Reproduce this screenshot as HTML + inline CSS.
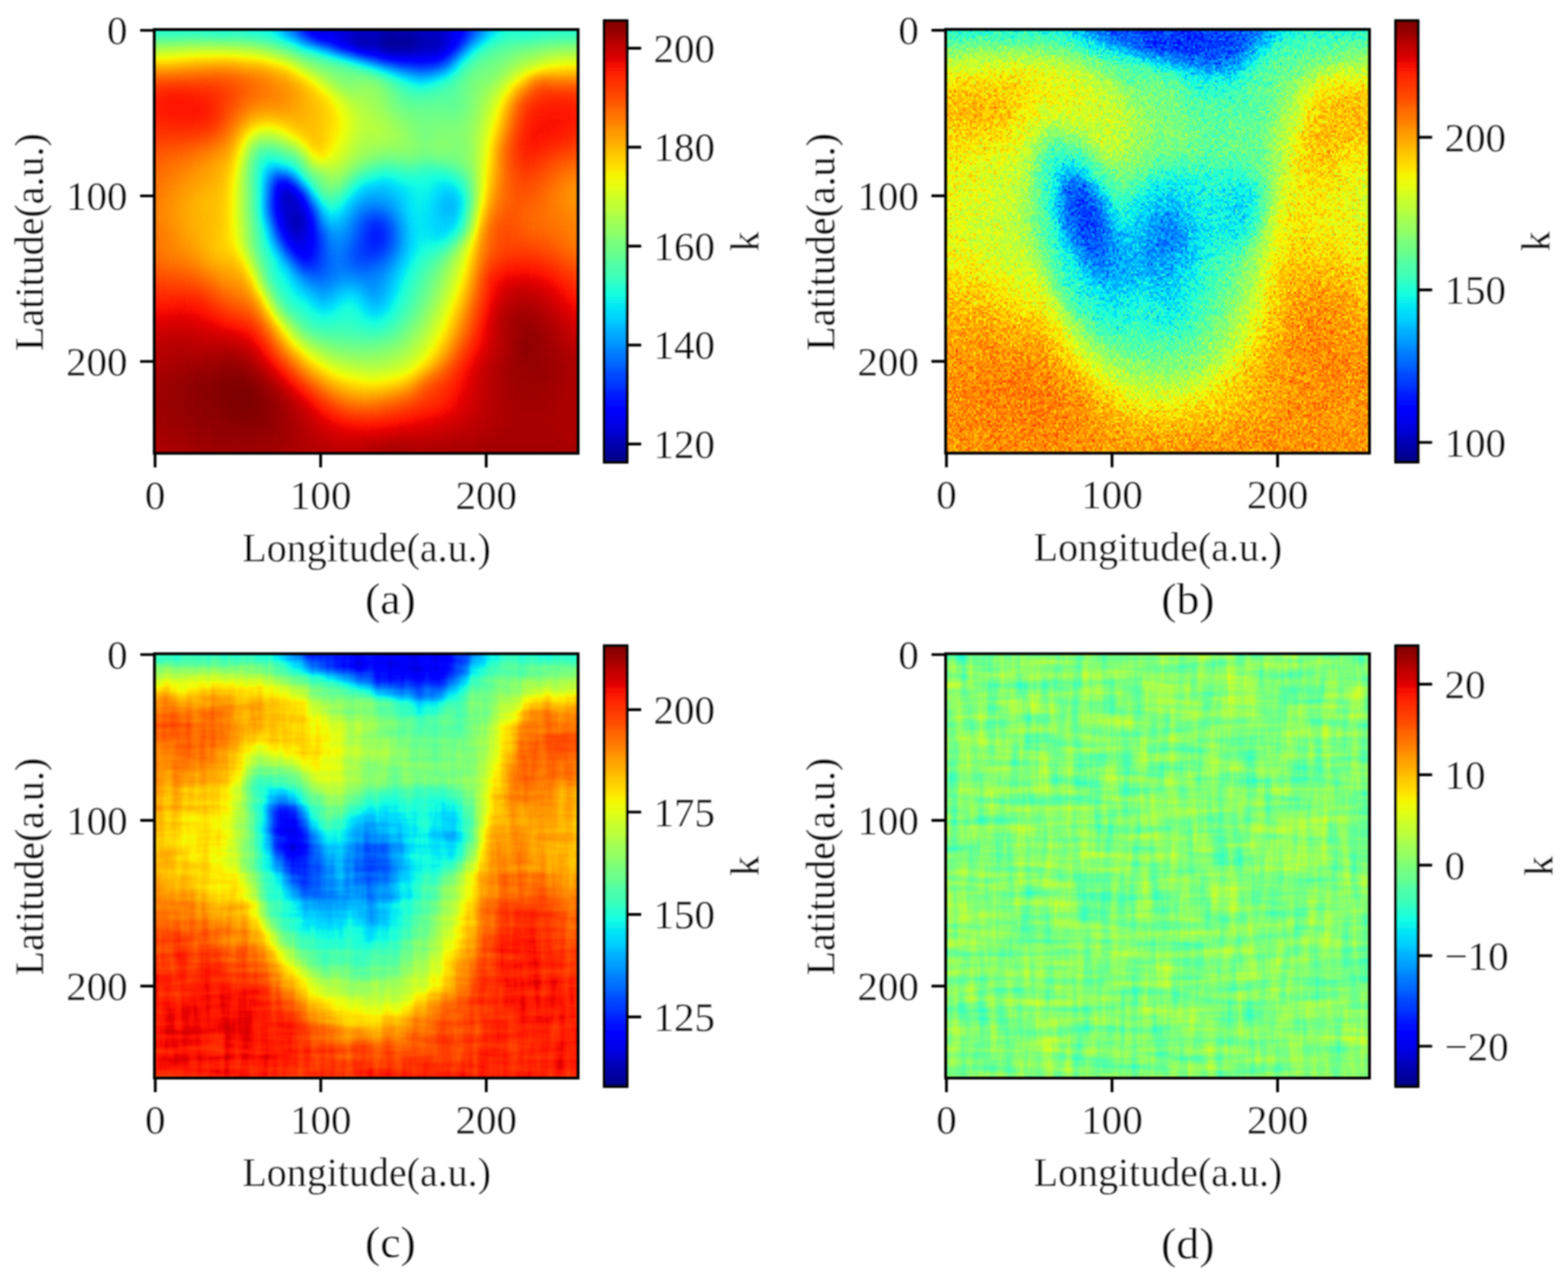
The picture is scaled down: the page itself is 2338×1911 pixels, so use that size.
<!DOCTYPE html>
<html lang="en"><head><meta charset="utf-8"><title>Figure</title>
<style>html,body{margin:0;padding:0;background:#fff}body{width:2338px;height:1911px;overflow:hidden;position:relative}svg{position:absolute;left:0;top:0;display:block}text{font-family:"Liberation Serif","Times New Roman",serif;font-size:59.6px;fill:#000;stroke:#fff;stroke-width:0.3;stroke-linejoin:round}.cap{font-size:67.5px}.sp{fill:none;stroke:#000;stroke-width:4.2}.tk{stroke:#000;stroke-width:4.2;fill:none}</style></head><body>
<svg xmlns="http://www.w3.org/2000/svg" width="2338" height="1911" viewBox="0 0 2338 1911">
<defs>
<linearGradient id="jetg" x1="0" y1="0" x2="0" y2="1"><stop offset="0" stop-color="#800000"/><stop offset="0.03" stop-color="#9c0000"/><stop offset="0.05" stop-color="#b90000"/><stop offset="0.08" stop-color="#d60000"/><stop offset="0.1" stop-color="#f30900"/><stop offset="0.12" stop-color="#ff2100"/><stop offset="0.15" stop-color="#ff3900"/><stop offset="0.18" stop-color="#ff5000"/><stop offset="0.2" stop-color="#ff6800"/><stop offset="0.23" stop-color="#ff8000"/><stop offset="0.25" stop-color="#ff9700"/><stop offset="0.28" stop-color="#ffaf00"/><stop offset="0.3" stop-color="#ffc600"/><stop offset="0.33" stop-color="#ffde00"/><stop offset="0.35" stop-color="#f7f600"/><stop offset="0.38" stop-color="#e2ff15"/><stop offset="0.4" stop-color="#ceff29"/><stop offset="0.43" stop-color="#b9ff3e"/><stop offset="0.45" stop-color="#a5ff52"/><stop offset="0.48" stop-color="#90ff67"/><stop offset="0.5" stop-color="#7bff7b"/><stop offset="0.53" stop-color="#67ff90"/><stop offset="0.55" stop-color="#52ffa5"/><stop offset="0.58" stop-color="#3effb9"/><stop offset="0.6" stop-color="#29ffce"/><stop offset="0.62" stop-color="#15ffe2"/><stop offset="0.65" stop-color="#00e5f7"/><stop offset="0.68" stop-color="#00ccff"/><stop offset="0.7" stop-color="#00b2ff"/><stop offset="0.73" stop-color="#0099ff"/><stop offset="0.75" stop-color="#0080ff"/><stop offset="0.78" stop-color="#0066ff"/><stop offset="0.8" stop-color="#004cff"/><stop offset="0.83" stop-color="#0033ff"/><stop offset="0.85" stop-color="#0019ff"/><stop offset="0.88" stop-color="#0000ff"/><stop offset="0.9" stop-color="#0000f3"/><stop offset="0.93" stop-color="#0000d6"/><stop offset="0.95" stop-color="#0000b9"/><stop offset="0.98" stop-color="#00009c"/><stop offset="1" stop-color="#000080"/></linearGradient>
<filter id="soft" x="-.02" y="-.02" width="1.04" height="1.04"><feGaussianBlur stdDeviation="1.0"/></filter>
<linearGradient id="r" gradientUnits="userSpaceOnUse" x1="0" y1="0" x2="1" y2="0"/><linearGradient id="r0" href="#r"><stop offset="0" stop-color="#636363"/><stop offset=".0208" stop-color="#646464"/><stop offset=".0417" stop-color="#646464"/><stop offset=".0625" stop-color="#646464"/><stop offset=".0833" stop-color="#656565"/><stop offset=".1042" stop-color="#656565"/><stop offset=".125" stop-color="#646464"/><stop offset=".1458" stop-color="#636363"/><stop offset=".1667" stop-color="#626262"/><stop offset=".1875" stop-color="#646464"/><stop offset=".2083" stop-color="#636363"/><stop offset=".2292" stop-color="#606060"/><stop offset=".25" stop-color="#5f5f5f"/><stop offset=".2708" stop-color="#5d5d5d"/><stop offset=".2917" stop-color="#555555"/><stop offset=".3125" stop-color="#454545"/><stop offset=".3333" stop-color="#373737"/><stop offset=".3542" stop-color="#242424"/><stop offset=".375" stop-color="#181818"/><stop offset=".3958" stop-color="#131313"/><stop offset=".4167" stop-color="#171717"/><stop offset=".4375" stop-color="#161616"/><stop offset=".4583" stop-color="#131313"/><stop offset=".4792" stop-color="#0e0e0e"/><stop offset=".5" stop-color="#0e0e0e"/><stop offset=".5208" stop-color="#0e0e0e"/><stop offset=".5417" stop-color="#0a0a0a"/><stop offset=".5625" stop-color="#090909"/><stop offset=".5833" stop-color="#0a0a0a"/><stop offset=".6042" stop-color="#090909"/><stop offset=".625" stop-color="#0d0d0d"/><stop offset=".6458" stop-color="#0f0f0f"/><stop offset=".6667" stop-color="#0f0f0f"/><stop offset=".6875" stop-color="#131313"/><stop offset=".7083" stop-color="#191919"/><stop offset=".7292" stop-color="#202020"/><stop offset=".75" stop-color="#303030"/><stop offset=".7708" stop-color="#404040"/><stop offset=".7917" stop-color="#515151"/><stop offset=".8125" stop-color="#5b5b5b"/><stop offset=".8333" stop-color="#626262"/><stop offset=".8542" stop-color="#626262"/><stop offset=".875" stop-color="#616161"/><stop offset=".8958" stop-color="#626262"/><stop offset=".9167" stop-color="#636363"/><stop offset=".9375" stop-color="#646464"/><stop offset=".9583" stop-color="#656565"/><stop offset=".9792" stop-color="#646464"/><stop offset="1" stop-color="#646464"/></linearGradient><linearGradient id="r1" href="#r"><stop offset="0" stop-color="#636363"/><stop offset=".0208" stop-color="#646464"/><stop offset=".0417" stop-color="#646464"/><stop offset=".0625" stop-color="#646464"/><stop offset=".0833" stop-color="#656565"/><stop offset=".1042" stop-color="#656565"/><stop offset=".125" stop-color="#646464"/><stop offset=".1458" stop-color="#636363"/><stop offset=".1667" stop-color="#626262"/><stop offset=".1875" stop-color="#646464"/><stop offset=".2083" stop-color="#636363"/><stop offset=".2292" stop-color="#606060"/><stop offset=".25" stop-color="#5f5f5f"/><stop offset=".2708" stop-color="#5d5d5d"/><stop offset=".2917" stop-color="#555555"/><stop offset=".3125" stop-color="#454545"/><stop offset=".3333" stop-color="#373737"/><stop offset=".3542" stop-color="#242424"/><stop offset=".375" stop-color="#181818"/><stop offset=".3958" stop-color="#131313"/><stop offset=".4167" stop-color="#171717"/><stop offset=".4375" stop-color="#161616"/><stop offset=".4583" stop-color="#131313"/><stop offset=".4792" stop-color="#0e0e0e"/><stop offset=".5" stop-color="#0e0e0e"/><stop offset=".5208" stop-color="#0e0e0e"/><stop offset=".5417" stop-color="#0a0a0a"/><stop offset=".5625" stop-color="#090909"/><stop offset=".5833" stop-color="#0a0a0a"/><stop offset=".6042" stop-color="#090909"/><stop offset=".625" stop-color="#0d0d0d"/><stop offset=".6458" stop-color="#0f0f0f"/><stop offset=".6667" stop-color="#0f0f0f"/><stop offset=".6875" stop-color="#131313"/><stop offset=".7083" stop-color="#191919"/><stop offset=".7292" stop-color="#202020"/><stop offset=".75" stop-color="#303030"/><stop offset=".7708" stop-color="#404040"/><stop offset=".7917" stop-color="#515151"/><stop offset=".8125" stop-color="#5b5b5b"/><stop offset=".8333" stop-color="#626262"/><stop offset=".8542" stop-color="#626262"/><stop offset=".875" stop-color="#616161"/><stop offset=".8958" stop-color="#626262"/><stop offset=".9167" stop-color="#636363"/><stop offset=".9375" stop-color="#646464"/><stop offset=".9583" stop-color="#656565"/><stop offset=".9792" stop-color="#646464"/><stop offset="1" stop-color="#646464"/></linearGradient><linearGradient id="r2" href="#r"><stop offset="0" stop-color="#7d7d7d"/><stop offset=".0208" stop-color="#7e7e7e"/><stop offset=".0417" stop-color="#7e7e7e"/><stop offset=".0625" stop-color="#7f7f7f"/><stop offset=".0833" stop-color="#808080"/><stop offset=".1042" stop-color="#808080"/><stop offset=".125" stop-color="#808080"/><stop offset=".1458" stop-color="#7f7f7f"/><stop offset=".1667" stop-color="#7e7e7e"/><stop offset=".1875" stop-color="#7d7d7d"/><stop offset=".2083" stop-color="#7d7d7d"/><stop offset=".2292" stop-color="#7b7b7b"/><stop offset=".25" stop-color="#767676"/><stop offset=".2708" stop-color="#727272"/><stop offset=".2917" stop-color="#6b6b6b"/><stop offset=".3125" stop-color="#636363"/><stop offset=".3333" stop-color="#575757"/><stop offset=".3542" stop-color="#454545"/><stop offset=".375" stop-color="#343434"/><stop offset=".3958" stop-color="#242424"/><stop offset=".4167" stop-color="#1d1d1d"/><stop offset=".4375" stop-color="#131313"/><stop offset=".4583" stop-color="#0f0f0f"/><stop offset=".4792" stop-color="#090909"/><stop offset=".5" stop-color="#090909"/><stop offset=".5208" stop-color="#0a0a0a"/><stop offset=".5417" stop-color="#040404"/><stop offset=".5625" stop-color="#020202"/><stop offset=".5833" stop-color="#020202"/><stop offset=".6042" stop-color="#030303"/><stop offset=".625" stop-color="#070707"/><stop offset=".6458" stop-color="#0a0a0a"/><stop offset=".6667" stop-color="#0b0b0b"/><stop offset=".6875" stop-color="#101010"/><stop offset=".7083" stop-color="#181818"/><stop offset=".7292" stop-color="#2a2a2a"/><stop offset=".75" stop-color="#424242"/><stop offset=".7708" stop-color="#555555"/><stop offset=".7917" stop-color="#636363"/><stop offset=".8125" stop-color="#6a6a6a"/><stop offset=".8333" stop-color="#6e6e6e"/><stop offset=".8542" stop-color="#707070"/><stop offset=".875" stop-color="#707070"/><stop offset=".8958" stop-color="#727272"/><stop offset=".9167" stop-color="#757575"/><stop offset=".9375" stop-color="#777777"/><stop offset=".9583" stop-color="#777777"/><stop offset=".9792" stop-color="#787878"/><stop offset="1" stop-color="#787878"/></linearGradient><linearGradient id="r3" href="#r"><stop offset="0" stop-color="#929292"/><stop offset=".0208" stop-color="#949494"/><stop offset=".0417" stop-color="#959595"/><stop offset=".0625" stop-color="#969696"/><stop offset=".0833" stop-color="#989898"/><stop offset=".1042" stop-color="#999999"/><stop offset=".125" stop-color="#999999"/><stop offset=".1458" stop-color="#999999"/><stop offset=".1667" stop-color="#999999"/><stop offset=".1875" stop-color="#989898"/><stop offset=".2083" stop-color="#969696"/><stop offset=".2292" stop-color="#949494"/><stop offset=".25" stop-color="#909090"/><stop offset=".2708" stop-color="#898989"/><stop offset=".2917" stop-color="#828282"/><stop offset=".3125" stop-color="#7b7b7b"/><stop offset=".3333" stop-color="#727272"/><stop offset=".3542" stop-color="#686868"/><stop offset=".375" stop-color="#636363"/><stop offset=".3958" stop-color="#565656"/><stop offset=".4167" stop-color="#454545"/><stop offset=".4375" stop-color="#323232"/><stop offset=".4583" stop-color="#252525"/><stop offset=".4792" stop-color="#181818"/><stop offset=".5" stop-color="#131313"/><stop offset=".5208" stop-color="#131313"/><stop offset=".5417" stop-color="#0d0d0d"/><stop offset=".5625" stop-color="#0b0b0b"/><stop offset=".5833" stop-color="#0c0c0c"/><stop offset=".6042" stop-color="#0b0b0b"/><stop offset=".625" stop-color="#0f0f0f"/><stop offset=".6458" stop-color="#101010"/><stop offset=".6667" stop-color="#101010"/><stop offset=".6875" stop-color="#171717"/><stop offset=".7083" stop-color="#272727"/><stop offset=".7292" stop-color="#414141"/><stop offset=".75" stop-color="#5a5a5a"/><stop offset=".7708" stop-color="#696969"/><stop offset=".7917" stop-color="#707070"/><stop offset=".8125" stop-color="#747474"/><stop offset=".8333" stop-color="#777777"/><stop offset=".8542" stop-color="#7b7b7b"/><stop offset=".875" stop-color="#7e7e7e"/><stop offset=".8958" stop-color="#818181"/><stop offset=".9167" stop-color="#848484"/><stop offset=".9375" stop-color="#878787"/><stop offset=".9583" stop-color="#898989"/><stop offset=".9792" stop-color="#898989"/><stop offset="1" stop-color="#8a8a8a"/></linearGradient><linearGradient id="r4" href="#r"><stop offset="0" stop-color="#a6a6a6"/><stop offset=".0208" stop-color="#a8a8a8"/><stop offset=".0417" stop-color="#a9a9a9"/><stop offset=".0625" stop-color="#ababab"/><stop offset=".0833" stop-color="#adadad"/><stop offset=".1042" stop-color="#aeaeae"/><stop offset=".125" stop-color="#afafaf"/><stop offset=".1458" stop-color="#b0b0b0"/><stop offset=".1667" stop-color="#b0b0b0"/><stop offset=".1875" stop-color="#afafaf"/><stop offset=".2083" stop-color="#adadad"/><stop offset=".2292" stop-color="#ababab"/><stop offset=".25" stop-color="#a9a9a9"/><stop offset=".2708" stop-color="#a4a4a4"/><stop offset=".2917" stop-color="#9d9d9d"/><stop offset=".3125" stop-color="#959595"/><stop offset=".3333" stop-color="#898989"/><stop offset=".3542" stop-color="#7e7e7e"/><stop offset=".375" stop-color="#787878"/><stop offset=".3958" stop-color="#747474"/><stop offset=".4167" stop-color="#6f6f6f"/><stop offset=".4375" stop-color="#686868"/><stop offset=".4583" stop-color="#5c5c5c"/><stop offset=".4792" stop-color="#4d4d4d"/><stop offset=".5" stop-color="#3d3d3d"/><stop offset=".5208" stop-color="#303030"/><stop offset=".5417" stop-color="#242424"/><stop offset=".5625" stop-color="#1f1f1f"/><stop offset=".5833" stop-color="#1b1b1b"/><stop offset=".6042" stop-color="#1c1c1c"/><stop offset=".625" stop-color="#1b1b1b"/><stop offset=".6458" stop-color="#1c1c1c"/><stop offset=".6667" stop-color="#1f1f1f"/><stop offset=".6875" stop-color="#2a2a2a"/><stop offset=".7083" stop-color="#424242"/><stop offset=".7292" stop-color="#5b5b5b"/><stop offset=".75" stop-color="#6b6b6b"/><stop offset=".7708" stop-color="#747474"/><stop offset=".7917" stop-color="#787878"/><stop offset=".8125" stop-color="#7b7b7b"/><stop offset=".8333" stop-color="#7f7f7f"/><stop offset=".8542" stop-color="#848484"/><stop offset=".875" stop-color="#898989"/><stop offset=".8958" stop-color="#8d8d8d"/><stop offset=".9167" stop-color="#929292"/><stop offset=".9375" stop-color="#979797"/><stop offset=".9583" stop-color="#999999"/><stop offset=".9792" stop-color="#9a9a9a"/><stop offset="1" stop-color="#9b9b9b"/></linearGradient><linearGradient id="r5" href="#r"><stop offset="0" stop-color="#bbbbbb"/><stop offset=".0208" stop-color="#bcbcbc"/><stop offset=".0417" stop-color="#bcbcbc"/><stop offset=".0625" stop-color="#bebebe"/><stop offset=".0833" stop-color="#c0c0c0"/><stop offset=".1042" stop-color="#c0c0c0"/><stop offset=".125" stop-color="#c1c1c1"/><stop offset=".1458" stop-color="#c2c2c2"/><stop offset=".1667" stop-color="#c2c2c2"/><stop offset=".1875" stop-color="#c1c1c1"/><stop offset=".2083" stop-color="#bebebe"/><stop offset=".2292" stop-color="#bcbcbc"/><stop offset=".25" stop-color="#bbbbbb"/><stop offset=".2708" stop-color="#b7b7b7"/><stop offset=".2917" stop-color="#b2b2b2"/><stop offset=".3125" stop-color="#acacac"/><stop offset=".3333" stop-color="#a1a1a1"/><stop offset=".3542" stop-color="#949494"/><stop offset=".375" stop-color="#878787"/><stop offset=".3958" stop-color="#7f7f7f"/><stop offset=".4167" stop-color="#7c7c7c"/><stop offset=".4375" stop-color="#7a7a7a"/><stop offset=".4583" stop-color="#777777"/><stop offset=".4792" stop-color="#727272"/><stop offset=".5" stop-color="#6a6a6a"/><stop offset=".5208" stop-color="#5f5f5f"/><stop offset=".5417" stop-color="#525252"/><stop offset=".5625" stop-color="#474747"/><stop offset=".5833" stop-color="#3c3c3c"/><stop offset=".6042" stop-color="#373737"/><stop offset=".625" stop-color="#323232"/><stop offset=".6458" stop-color="#333333"/><stop offset=".6667" stop-color="#383838"/><stop offset=".6875" stop-color="#444444"/><stop offset=".7083" stop-color="#575757"/><stop offset=".7292" stop-color="#6b6b6b"/><stop offset=".75" stop-color="#757575"/><stop offset=".7708" stop-color="#7a7a7a"/><stop offset=".7917" stop-color="#7c7c7c"/><stop offset=".8125" stop-color="#7f7f7f"/><stop offset=".8333" stop-color="#868686"/><stop offset=".8542" stop-color="#8e8e8e"/><stop offset=".875" stop-color="#979797"/><stop offset=".8958" stop-color="#9d9d9d"/><stop offset=".9167" stop-color="#a5a5a5"/><stop offset=".9375" stop-color="#aaaaaa"/><stop offset=".9583" stop-color="#ababab"/><stop offset=".9792" stop-color="#acacac"/><stop offset="1" stop-color="#acacac"/></linearGradient><linearGradient id="r6" href="#r"><stop offset="0" stop-color="#cccccc"/><stop offset=".0208" stop-color="#cdcdcd"/><stop offset=".0417" stop-color="#cdcdcd"/><stop offset=".0625" stop-color="#cecece"/><stop offset=".0833" stop-color="#cecece"/><stop offset=".1042" stop-color="#cfcfcf"/><stop offset=".125" stop-color="#cfcfcf"/><stop offset=".1458" stop-color="#cfcfcf"/><stop offset=".1667" stop-color="#cecece"/><stop offset=".1875" stop-color="#cccccc"/><stop offset=".2083" stop-color="#cacaca"/><stop offset=".2292" stop-color="#c7c7c7"/><stop offset=".25" stop-color="#c4c4c4"/><stop offset=".2708" stop-color="#c1c1c1"/><stop offset=".2917" stop-color="#bdbdbd"/><stop offset=".3125" stop-color="#b9b9b9"/><stop offset=".3333" stop-color="#b2b2b2"/><stop offset=".3542" stop-color="#a9a9a9"/><stop offset=".375" stop-color="#9d9d9d"/><stop offset=".3958" stop-color="#8f8f8f"/><stop offset=".4167" stop-color="#858585"/><stop offset=".4375" stop-color="#7f7f7f"/><stop offset=".4583" stop-color="#7e7e7e"/><stop offset=".4792" stop-color="#7f7f7f"/><stop offset=".5" stop-color="#7e7e7e"/><stop offset=".5208" stop-color="#7a7a7a"/><stop offset=".5417" stop-color="#717171"/><stop offset=".5625" stop-color="#666666"/><stop offset=".5833" stop-color="#5c5c5c"/><stop offset=".6042" stop-color="#535353"/><stop offset=".625" stop-color="#4d4d4d"/><stop offset=".6458" stop-color="#4e4e4e"/><stop offset=".6667" stop-color="#565656"/><stop offset=".6875" stop-color="#5f5f5f"/><stop offset=".7083" stop-color="#6a6a6a"/><stop offset=".7292" stop-color="#747474"/><stop offset=".75" stop-color="#7b7b7b"/><stop offset=".7708" stop-color="#7e7e7e"/><stop offset=".7917" stop-color="#808080"/><stop offset=".8125" stop-color="#868686"/><stop offset=".8333" stop-color="#919191"/><stop offset=".8542" stop-color="#9d9d9d"/><stop offset=".875" stop-color="#ababab"/><stop offset=".8958" stop-color="#bcbcbc"/><stop offset=".9167" stop-color="#c2c2c2"/><stop offset=".9375" stop-color="#c0c0c0"/><stop offset=".9583" stop-color="#bfbfbf"/><stop offset=".9792" stop-color="#bfbfbf"/><stop offset="1" stop-color="#bfbfbf"/></linearGradient><linearGradient id="r7" href="#r"><stop offset="0" stop-color="#d6d6d6"/><stop offset=".0208" stop-color="#d9d9d9"/><stop offset=".0417" stop-color="#d9d9d9"/><stop offset=".0625" stop-color="#d9d9d9"/><stop offset=".0833" stop-color="#d9d9d9"/><stop offset=".1042" stop-color="#d8d8d8"/><stop offset=".125" stop-color="#d8d8d8"/><stop offset=".1458" stop-color="#d6d6d6"/><stop offset=".1667" stop-color="#d4d4d4"/><stop offset=".1875" stop-color="#d2d2d2"/><stop offset=".2083" stop-color="#cecece"/><stop offset=".2292" stop-color="#cbcbcb"/><stop offset=".25" stop-color="#c8c8c8"/><stop offset=".2708" stop-color="#c5c5c5"/><stop offset=".2917" stop-color="#c1c1c1"/><stop offset=".3125" stop-color="#bfbfbf"/><stop offset=".3333" stop-color="#bababa"/><stop offset=".3542" stop-color="#b4b4b4"/><stop offset=".375" stop-color="#acacac"/><stop offset=".3958" stop-color="#a1a1a1"/><stop offset=".4167" stop-color="#939393"/><stop offset=".4375" stop-color="#888888"/><stop offset=".4583" stop-color="#828282"/><stop offset=".4792" stop-color="#838383"/><stop offset=".5" stop-color="#868686"/><stop offset=".5208" stop-color="#848484"/><stop offset=".5417" stop-color="#7e7e7e"/><stop offset=".5625" stop-color="#757575"/><stop offset=".5833" stop-color="#6c6c6c"/><stop offset=".6042" stop-color="#656565"/><stop offset=".625" stop-color="#616161"/><stop offset=".6458" stop-color="#636363"/><stop offset=".6667" stop-color="#686868"/><stop offset=".6875" stop-color="#6d6d6d"/><stop offset=".7083" stop-color="#727272"/><stop offset=".7292" stop-color="#787878"/><stop offset=".75" stop-color="#7d7d7d"/><stop offset=".7708" stop-color="#828282"/><stop offset=".7917" stop-color="#878787"/><stop offset=".8125" stop-color="#909090"/><stop offset=".8333" stop-color="#9e9e9e"/><stop offset=".8542" stop-color="#aeaeae"/><stop offset=".875" stop-color="#bebebe"/><stop offset=".8958" stop-color="#cccccc"/><stop offset=".9167" stop-color="#d2d2d2"/><stop offset=".9375" stop-color="#d1d1d1"/><stop offset=".9583" stop-color="#d0d0d0"/><stop offset=".9792" stop-color="#d0d0d0"/><stop offset="1" stop-color="#cfcfcf"/></linearGradient><linearGradient id="r8" href="#r"><stop offset="0" stop-color="#dcdcdc"/><stop offset=".0208" stop-color="#dfdfdf"/><stop offset=".0417" stop-color="#e0e0e0"/><stop offset=".0625" stop-color="#e0e0e0"/><stop offset=".0833" stop-color="#dfdfdf"/><stop offset=".1042" stop-color="#dedede"/><stop offset=".125" stop-color="#dddddd"/><stop offset=".1458" stop-color="#dadada"/><stop offset=".1667" stop-color="#d7d7d7"/><stop offset=".1875" stop-color="#d3d3d3"/><stop offset=".2083" stop-color="#cecece"/><stop offset=".2292" stop-color="#cacaca"/><stop offset=".25" stop-color="#c7c7c7"/><stop offset=".2708" stop-color="#c5c5c5"/><stop offset=".2917" stop-color="#c3c3c3"/><stop offset=".3125" stop-color="#c0c0c0"/><stop offset=".3333" stop-color="#bcbcbc"/><stop offset=".3542" stop-color="#b7b7b7"/><stop offset=".375" stop-color="#b2b2b2"/><stop offset=".3958" stop-color="#ababab"/><stop offset=".4167" stop-color="#a2a2a2"/><stop offset=".4375" stop-color="#969696"/><stop offset=".4583" stop-color="#8d8d8d"/><stop offset=".4792" stop-color="#8a8a8a"/><stop offset=".5" stop-color="#898989"/><stop offset=".5208" stop-color="#878787"/><stop offset=".5417" stop-color="#828282"/><stop offset=".5625" stop-color="#7a7a7a"/><stop offset=".5833" stop-color="#747474"/><stop offset=".6042" stop-color="#6f6f6f"/><stop offset=".625" stop-color="#6e6e6e"/><stop offset=".6458" stop-color="#6f6f6f"/><stop offset=".6667" stop-color="#717171"/><stop offset=".6875" stop-color="#727272"/><stop offset=".7083" stop-color="#747474"/><stop offset=".7292" stop-color="#797979"/><stop offset=".75" stop-color="#7f7f7f"/><stop offset=".7708" stop-color="#858585"/><stop offset=".7917" stop-color="#8d8d8d"/><stop offset=".8125" stop-color="#999999"/><stop offset=".8333" stop-color="#aaaaaa"/><stop offset=".8542" stop-color="#bdbdbd"/><stop offset=".875" stop-color="#cccccc"/><stop offset=".8958" stop-color="#d4d4d4"/><stop offset=".9167" stop-color="#d9d9d9"/><stop offset=".9375" stop-color="#dadada"/><stop offset=".9583" stop-color="#dadada"/><stop offset=".9792" stop-color="#dadada"/><stop offset="1" stop-color="#d8d8d8"/></linearGradient><linearGradient id="r9" href="#r"><stop offset="0" stop-color="#dedede"/><stop offset=".0208" stop-color="#e1e1e1"/><stop offset=".0417" stop-color="#e2e2e2"/><stop offset=".0625" stop-color="#e2e2e2"/><stop offset=".0833" stop-color="#e2e2e2"/><stop offset=".1042" stop-color="#e1e1e1"/><stop offset=".125" stop-color="#dfdfdf"/><stop offset=".1458" stop-color="#dbdbdb"/><stop offset=".1667" stop-color="#d6d6d6"/><stop offset=".1875" stop-color="#d1d1d1"/><stop offset=".2083" stop-color="#cbcbcb"/><stop offset=".2292" stop-color="#c6c6c6"/><stop offset=".25" stop-color="#c3c3c3"/><stop offset=".2708" stop-color="#c1c1c1"/><stop offset=".2917" stop-color="#c1c1c1"/><stop offset=".3125" stop-color="#bfbfbf"/><stop offset=".3333" stop-color="#bbbbbb"/><stop offset=".3542" stop-color="#b7b7b7"/><stop offset=".375" stop-color="#b4b4b4"/><stop offset=".3958" stop-color="#b0b0b0"/><stop offset=".4167" stop-color="#a9a9a9"/><stop offset=".4375" stop-color="#9f9f9f"/><stop offset=".4583" stop-color="#969696"/><stop offset=".4792" stop-color="#909090"/><stop offset=".5" stop-color="#8d8d8d"/><stop offset=".5208" stop-color="#898989"/><stop offset=".5417" stop-color="#848484"/><stop offset=".5625" stop-color="#7e7e7e"/><stop offset=".5833" stop-color="#787878"/><stop offset=".6042" stop-color="#767676"/><stop offset=".625" stop-color="#757575"/><stop offset=".6458" stop-color="#757575"/><stop offset=".6667" stop-color="#767676"/><stop offset=".6875" stop-color="#767676"/><stop offset=".7083" stop-color="#757575"/><stop offset=".7292" stop-color="#7a7a7a"/><stop offset=".75" stop-color="#808080"/><stop offset=".7708" stop-color="#888888"/><stop offset=".7917" stop-color="#929292"/><stop offset=".8125" stop-color="#a0a0a0"/><stop offset=".8333" stop-color="#b4b4b4"/><stop offset=".8542" stop-color="#c8c8c8"/><stop offset=".875" stop-color="#d5d5d5"/><stop offset=".8958" stop-color="#dbdbdb"/><stop offset=".9167" stop-color="#dedede"/><stop offset=".9375" stop-color="#dfdfdf"/><stop offset=".9583" stop-color="#dfdfdf"/><stop offset=".9792" stop-color="#dfdfdf"/><stop offset="1" stop-color="#dddddd"/></linearGradient><linearGradient id="r10" href="#r"><stop offset="0" stop-color="#dedede"/><stop offset=".0208" stop-color="#e0e0e0"/><stop offset=".0417" stop-color="#e1e1e1"/><stop offset=".0625" stop-color="#e1e1e1"/><stop offset=".0833" stop-color="#e1e1e1"/><stop offset=".1042" stop-color="#e1e1e1"/><stop offset=".125" stop-color="#dfdfdf"/><stop offset=".1458" stop-color="#dbdbdb"/><stop offset=".1667" stop-color="#d4d4d4"/><stop offset=".1875" stop-color="#cdcdcd"/><stop offset=".2083" stop-color="#c6c6c6"/><stop offset=".2292" stop-color="#bfbfbf"/><stop offset=".25" stop-color="#bbbbbb"/><stop offset=".2708" stop-color="#bababa"/><stop offset=".2917" stop-color="#bababa"/><stop offset=".3125" stop-color="#bababa"/><stop offset=".3333" stop-color="#b9b9b9"/><stop offset=".3542" stop-color="#b7b7b7"/><stop offset=".375" stop-color="#b4b4b4"/><stop offset=".3958" stop-color="#b1b1b1"/><stop offset=".4167" stop-color="#acacac"/><stop offset=".4375" stop-color="#a4a4a4"/><stop offset=".4583" stop-color="#9c9c9c"/><stop offset=".4792" stop-color="#949494"/><stop offset=".5" stop-color="#8f8f8f"/><stop offset=".5208" stop-color="#8c8c8c"/><stop offset=".5417" stop-color="#888888"/><stop offset=".5625" stop-color="#838383"/><stop offset=".5833" stop-color="#7e7e7e"/><stop offset=".6042" stop-color="#7b7b7b"/><stop offset=".625" stop-color="#7a7a7a"/><stop offset=".6458" stop-color="#7a7a7a"/><stop offset=".6667" stop-color="#7a7a7a"/><stop offset=".6875" stop-color="#797979"/><stop offset=".7083" stop-color="#797979"/><stop offset=".7292" stop-color="#7c7c7c"/><stop offset=".75" stop-color="#828282"/><stop offset=".7708" stop-color="#8b8b8b"/><stop offset=".7917" stop-color="#979797"/><stop offset=".8125" stop-color="#a7a7a7"/><stop offset=".8333" stop-color="#bababa"/><stop offset=".8542" stop-color="#cdcdcd"/><stop offset=".875" stop-color="#d9d9d9"/><stop offset=".8958" stop-color="#dedede"/><stop offset=".9167" stop-color="#e0e0e0"/><stop offset=".9375" stop-color="#e1e1e1"/><stop offset=".9583" stop-color="#e1e1e1"/><stop offset=".9792" stop-color="#e1e1e1"/><stop offset="1" stop-color="#dfdfdf"/></linearGradient><linearGradient id="r11" href="#r"><stop offset="0" stop-color="#dcdcdc"/><stop offset=".0208" stop-color="#dddddd"/><stop offset=".0417" stop-color="#dedede"/><stop offset=".0625" stop-color="#dfdfdf"/><stop offset=".0833" stop-color="#dfdfdf"/><stop offset=".1042" stop-color="#dedede"/><stop offset=".125" stop-color="#dddddd"/><stop offset=".1458" stop-color="#d8d8d8"/><stop offset=".1667" stop-color="#d1d1d1"/><stop offset=".1875" stop-color="#c8c8c8"/><stop offset=".2083" stop-color="#bebebe"/><stop offset=".2292" stop-color="#b5b5b5"/><stop offset=".25" stop-color="#afafaf"/><stop offset=".2708" stop-color="#adadad"/><stop offset=".2917" stop-color="#b0b0b0"/><stop offset=".3125" stop-color="#b3b3b3"/><stop offset=".3333" stop-color="#b5b5b5"/><stop offset=".3542" stop-color="#b5b5b5"/><stop offset=".375" stop-color="#b3b3b3"/><stop offset=".3958" stop-color="#b1b1b1"/><stop offset=".4167" stop-color="#acacac"/><stop offset=".4375" stop-color="#a6a6a6"/><stop offset=".4583" stop-color="#9e9e9e"/><stop offset=".4792" stop-color="#969696"/><stop offset=".5" stop-color="#929292"/><stop offset=".5208" stop-color="#909090"/><stop offset=".5417" stop-color="#8d8d8d"/><stop offset=".5625" stop-color="#888888"/><stop offset=".5833" stop-color="#838383"/><stop offset=".6042" stop-color="#808080"/><stop offset=".625" stop-color="#7d7d7d"/><stop offset=".6458" stop-color="#7c7c7c"/><stop offset=".6667" stop-color="#7d7d7d"/><stop offset=".6875" stop-color="#7d7d7d"/><stop offset=".7083" stop-color="#7d7d7d"/><stop offset=".7292" stop-color="#808080"/><stop offset=".75" stop-color="#858585"/><stop offset=".7708" stop-color="#8e8e8e"/><stop offset=".7917" stop-color="#9b9b9b"/><stop offset=".8125" stop-color="#acacac"/><stop offset=".8333" stop-color="#bfbfbf"/><stop offset=".8542" stop-color="#d0d0d0"/><stop offset=".875" stop-color="#dbdbdb"/><stop offset=".8958" stop-color="#e0e0e0"/><stop offset=".9167" stop-color="#e2e2e2"/><stop offset=".9375" stop-color="#e2e2e2"/><stop offset=".9583" stop-color="#e2e2e2"/><stop offset=".9792" stop-color="#e1e1e1"/><stop offset="1" stop-color="#dfdfdf"/></linearGradient><linearGradient id="r12" href="#r"><stop offset="0" stop-color="#d9d9d9"/><stop offset=".0208" stop-color="#dadada"/><stop offset=".0417" stop-color="#dadada"/><stop offset=".0625" stop-color="#dadada"/><stop offset=".0833" stop-color="#dadada"/><stop offset=".1042" stop-color="#d9d9d9"/><stop offset=".125" stop-color="#d7d7d7"/><stop offset=".1458" stop-color="#d3d3d3"/><stop offset=".1667" stop-color="#cbcbcb"/><stop offset=".1875" stop-color="#c2c2c2"/><stop offset=".2083" stop-color="#b5b5b5"/><stop offset=".2292" stop-color="#a7a7a7"/><stop offset=".25" stop-color="#9e9e9e"/><stop offset=".2708" stop-color="#9c9c9c"/><stop offset=".2917" stop-color="#a0a0a0"/><stop offset=".3125" stop-color="#a8a8a8"/><stop offset=".3333" stop-color="#afafaf"/><stop offset=".3542" stop-color="#b2b2b2"/><stop offset=".375" stop-color="#b3b3b3"/><stop offset=".3958" stop-color="#b0b0b0"/><stop offset=".4167" stop-color="#ababab"/><stop offset=".4375" stop-color="#a5a5a5"/><stop offset=".4583" stop-color="#9d9d9d"/><stop offset=".4792" stop-color="#959595"/><stop offset=".5" stop-color="#919191"/><stop offset=".5208" stop-color="#919191"/><stop offset=".5417" stop-color="#8f8f8f"/><stop offset=".5625" stop-color="#8b8b8b"/><stop offset=".5833" stop-color="#878787"/><stop offset=".6042" stop-color="#828282"/><stop offset=".625" stop-color="#7e7e7e"/><stop offset=".6458" stop-color="#7d7d7d"/><stop offset=".6667" stop-color="#7f7f7f"/><stop offset=".6875" stop-color="#808080"/><stop offset=".7083" stop-color="#808080"/><stop offset=".7292" stop-color="#828282"/><stop offset=".75" stop-color="#878787"/><stop offset=".7708" stop-color="#919191"/><stop offset=".7917" stop-color="#9f9f9f"/><stop offset=".8125" stop-color="#b1b1b1"/><stop offset=".8333" stop-color="#c4c4c4"/><stop offset=".8542" stop-color="#d4d4d4"/><stop offset=".875" stop-color="#dddddd"/><stop offset=".8958" stop-color="#e2e2e2"/><stop offset=".9167" stop-color="#e2e2e2"/><stop offset=".9375" stop-color="#e2e2e2"/><stop offset=".9583" stop-color="#e1e1e1"/><stop offset=".9792" stop-color="#dfdfdf"/><stop offset="1" stop-color="#dddddd"/></linearGradient><linearGradient id="r13" href="#r"><stop offset="0" stop-color="#d6d6d6"/><stop offset=".0208" stop-color="#d6d6d6"/><stop offset=".0417" stop-color="#d6d6d6"/><stop offset=".0625" stop-color="#d5d5d5"/><stop offset=".0833" stop-color="#d4d4d4"/><stop offset=".1042" stop-color="#d2d2d2"/><stop offset=".125" stop-color="#d0d0d0"/><stop offset=".1458" stop-color="#cbcbcb"/><stop offset=".1667" stop-color="#c5c5c5"/><stop offset=".1875" stop-color="#bbbbbb"/><stop offset=".2083" stop-color="#ababab"/><stop offset=".2292" stop-color="#979797"/><stop offset=".25" stop-color="#898989"/><stop offset=".2708" stop-color="#878787"/><stop offset=".2917" stop-color="#8c8c8c"/><stop offset=".3125" stop-color="#969696"/><stop offset=".3333" stop-color="#a1a1a1"/><stop offset=".3542" stop-color="#acacac"/><stop offset=".375" stop-color="#b2b2b2"/><stop offset=".3958" stop-color="#b0b0b0"/><stop offset=".4167" stop-color="#a9a9a9"/><stop offset=".4375" stop-color="#a2a2a2"/><stop offset=".4583" stop-color="#9a9a9a"/><stop offset=".4792" stop-color="#929292"/><stop offset=".5" stop-color="#8e8e8e"/><stop offset=".5208" stop-color="#8e8e8e"/><stop offset=".5417" stop-color="#8d8d8d"/><stop offset=".5625" stop-color="#8b8b8b"/><stop offset=".5833" stop-color="#888888"/><stop offset=".6042" stop-color="#848484"/><stop offset=".625" stop-color="#7f7f7f"/><stop offset=".6458" stop-color="#7e7e7e"/><stop offset=".6667" stop-color="#818181"/><stop offset=".6875" stop-color="#828282"/><stop offset=".7083" stop-color="#818181"/><stop offset=".7292" stop-color="#828282"/><stop offset=".75" stop-color="#888888"/><stop offset=".7708" stop-color="#939393"/><stop offset=".7917" stop-color="#a3a3a3"/><stop offset=".8125" stop-color="#b7b7b7"/><stop offset=".8333" stop-color="#c9c9c9"/><stop offset=".8542" stop-color="#d7d7d7"/><stop offset=".875" stop-color="#dfdfdf"/><stop offset=".8958" stop-color="#e2e2e2"/><stop offset=".9167" stop-color="#e1e1e1"/><stop offset=".9375" stop-color="#dfdfdf"/><stop offset=".9583" stop-color="#dedede"/><stop offset=".9792" stop-color="#dcdcdc"/><stop offset="1" stop-color="#d9d9d9"/></linearGradient><linearGradient id="r14" href="#r"><stop offset="0" stop-color="#d2d2d2"/><stop offset=".0208" stop-color="#d1d1d1"/><stop offset=".0417" stop-color="#d0d0d0"/><stop offset=".0625" stop-color="#cfcfcf"/><stop offset=".0833" stop-color="#cdcdcd"/><stop offset=".1042" stop-color="#cbcbcb"/><stop offset=".125" stop-color="#c8c8c8"/><stop offset=".1458" stop-color="#c4c4c4"/><stop offset=".1667" stop-color="#bfbfbf"/><stop offset=".1875" stop-color="#b5b5b5"/><stop offset=".2083" stop-color="#a1a1a1"/><stop offset=".2292" stop-color="#868686"/><stop offset=".25" stop-color="#767676"/><stop offset=".2708" stop-color="#737373"/><stop offset=".2917" stop-color="#777777"/><stop offset=".3125" stop-color="#808080"/><stop offset=".3333" stop-color="#898989"/><stop offset=".3542" stop-color="#9d9d9d"/><stop offset=".375" stop-color="#adadad"/><stop offset=".3958" stop-color="#aeaeae"/><stop offset=".4167" stop-color="#a6a6a6"/><stop offset=".4375" stop-color="#9e9e9e"/><stop offset=".4583" stop-color="#969696"/><stop offset=".4792" stop-color="#8f8f8f"/><stop offset=".5" stop-color="#8b8b8b"/><stop offset=".5208" stop-color="#898989"/><stop offset=".5417" stop-color="#878787"/><stop offset=".5625" stop-color="#868686"/><stop offset=".5833" stop-color="#858585"/><stop offset=".6042" stop-color="#848484"/><stop offset=".625" stop-color="#818181"/><stop offset=".6458" stop-color="#808080"/><stop offset=".6667" stop-color="#828282"/><stop offset=".6875" stop-color="#828282"/><stop offset=".7083" stop-color="#808080"/><stop offset=".7292" stop-color="#808080"/><stop offset=".75" stop-color="#878787"/><stop offset=".7708" stop-color="#959595"/><stop offset=".7917" stop-color="#a7a7a7"/><stop offset=".8125" stop-color="#bcbcbc"/><stop offset=".8333" stop-color="#cdcdcd"/><stop offset=".8542" stop-color="#d8d8d8"/><stop offset=".875" stop-color="#dedede"/><stop offset=".8958" stop-color="#dfdfdf"/><stop offset=".9167" stop-color="#dedede"/><stop offset=".9375" stop-color="#dbdbdb"/><stop offset=".9583" stop-color="#d9d9d9"/><stop offset=".9792" stop-color="#d7d7d7"/><stop offset="1" stop-color="#d4d4d4"/></linearGradient><linearGradient id="r15" href="#r"><stop offset="0" stop-color="#cfcfcf"/><stop offset=".0208" stop-color="#cdcdcd"/><stop offset=".0417" stop-color="#cbcbcb"/><stop offset=".0625" stop-color="#cacaca"/><stop offset=".0833" stop-color="#c8c8c8"/><stop offset=".1042" stop-color="#c5c5c5"/><stop offset=".125" stop-color="#c2c2c2"/><stop offset=".1458" stop-color="#bebebe"/><stop offset=".1667" stop-color="#bababa"/><stop offset=".1875" stop-color="#afafaf"/><stop offset=".2083" stop-color="#9a9a9a"/><stop offset=".2292" stop-color="#7d7d7d"/><stop offset=".25" stop-color="#6a6a6a"/><stop offset=".2708" stop-color="#636363"/><stop offset=".2917" stop-color="#676767"/><stop offset=".3125" stop-color="#6e6e6e"/><stop offset=".3333" stop-color="#747474"/><stop offset=".3542" stop-color="#878787"/><stop offset=".375" stop-color="#a0a0a0"/><stop offset=".3958" stop-color="#a8a8a8"/><stop offset=".4167" stop-color="#a0a0a0"/><stop offset=".4375" stop-color="#999999"/><stop offset=".4583" stop-color="#919191"/><stop offset=".4792" stop-color="#8a8a8a"/><stop offset=".5" stop-color="#858585"/><stop offset=".5208" stop-color="#818181"/><stop offset=".5417" stop-color="#7d7d7d"/><stop offset=".5625" stop-color="#7d7d7d"/><stop offset=".5833" stop-color="#7e7e7e"/><stop offset=".6042" stop-color="#7e7e7e"/><stop offset=".625" stop-color="#7c7c7c"/><stop offset=".6458" stop-color="#7a7a7a"/><stop offset=".6667" stop-color="#7d7d7d"/><stop offset=".6875" stop-color="#7d7d7d"/><stop offset=".7083" stop-color="#7e7e7e"/><stop offset=".7292" stop-color="#818181"/><stop offset=".75" stop-color="#888888"/><stop offset=".7708" stop-color="#969696"/><stop offset=".7917" stop-color="#a8a8a8"/><stop offset=".8125" stop-color="#bebebe"/><stop offset=".8333" stop-color="#cecece"/><stop offset=".8542" stop-color="#d7d7d7"/><stop offset=".875" stop-color="#dcdcdc"/><stop offset=".8958" stop-color="#dcdcdc"/><stop offset=".9167" stop-color="#d9d9d9"/><stop offset=".9375" stop-color="#d6d6d6"/><stop offset=".9583" stop-color="#d3d3d3"/><stop offset=".9792" stop-color="#d1d1d1"/><stop offset="1" stop-color="#cfcfcf"/></linearGradient><linearGradient id="r16" href="#r"><stop offset="0" stop-color="#cccccc"/><stop offset=".0208" stop-color="#cacaca"/><stop offset=".0417" stop-color="#c8c8c8"/><stop offset=".0625" stop-color="#c6c6c6"/><stop offset=".0833" stop-color="#c3c3c3"/><stop offset=".1042" stop-color="#c0c0c0"/><stop offset=".125" stop-color="#bdbdbd"/><stop offset=".1458" stop-color="#b9b9b9"/><stop offset=".1667" stop-color="#b5b5b5"/><stop offset=".1875" stop-color="#ababab"/><stop offset=".2083" stop-color="#949494"/><stop offset=".2292" stop-color="#787878"/><stop offset=".25" stop-color="#636363"/><stop offset=".2708" stop-color="#555555"/><stop offset=".2917" stop-color="#545454"/><stop offset=".3125" stop-color="#5c5c5c"/><stop offset=".3333" stop-color="#666666"/><stop offset=".3542" stop-color="#797979"/><stop offset=".375" stop-color="#8c8c8c"/><stop offset=".3958" stop-color="#949494"/><stop offset=".4167" stop-color="#959595"/><stop offset=".4375" stop-color="#919191"/><stop offset=".4583" stop-color="#898989"/><stop offset=".4792" stop-color="#808080"/><stop offset=".5" stop-color="#797979"/><stop offset=".5208" stop-color="#737373"/><stop offset=".5417" stop-color="#6f6f6f"/><stop offset=".5625" stop-color="#6f6f6f"/><stop offset=".5833" stop-color="#717171"/><stop offset=".6042" stop-color="#727272"/><stop offset=".625" stop-color="#6f6f6f"/><stop offset=".6458" stop-color="#6b6b6b"/><stop offset=".6667" stop-color="#6e6e6e"/><stop offset=".6875" stop-color="#717171"/><stop offset=".7083" stop-color="#767676"/><stop offset=".7292" stop-color="#7d7d7d"/><stop offset=".75" stop-color="#868686"/><stop offset=".7708" stop-color="#979797"/><stop offset=".7917" stop-color="#ababab"/><stop offset=".8125" stop-color="#bebebe"/><stop offset=".8333" stop-color="#cdcdcd"/><stop offset=".8542" stop-color="#d5d5d5"/><stop offset=".875" stop-color="#d9d9d9"/><stop offset=".8958" stop-color="#d8d8d8"/><stop offset=".9167" stop-color="#d5d5d5"/><stop offset=".9375" stop-color="#d1d1d1"/><stop offset=".9583" stop-color="#cecece"/><stop offset=".9792" stop-color="#cbcbcb"/><stop offset="1" stop-color="#c9c9c9"/></linearGradient><linearGradient id="r17" href="#r"><stop offset="0" stop-color="#cacaca"/><stop offset=".0208" stop-color="#c8c8c8"/><stop offset=".0417" stop-color="#c5c5c5"/><stop offset=".0625" stop-color="#c3c3c3"/><stop offset=".0833" stop-color="#c0c0c0"/><stop offset=".1042" stop-color="#bdbdbd"/><stop offset=".125" stop-color="#bbbbbb"/><stop offset=".1458" stop-color="#b8b8b8"/><stop offset=".1667" stop-color="#b3b3b3"/><stop offset=".1875" stop-color="#a7a7a7"/><stop offset=".2083" stop-color="#8f8f8f"/><stop offset=".2292" stop-color="#757575"/><stop offset=".25" stop-color="#606060"/><stop offset=".2708" stop-color="#474747"/><stop offset=".2917" stop-color="#353535"/><stop offset=".3125" stop-color="#383838"/><stop offset=".3333" stop-color="#4e4e4e"/><stop offset=".3542" stop-color="#696969"/><stop offset=".375" stop-color="#797979"/><stop offset=".3958" stop-color="#818181"/><stop offset=".4167" stop-color="#898989"/><stop offset=".4375" stop-color="#888888"/><stop offset=".4583" stop-color="#7e7e7e"/><stop offset=".4792" stop-color="#727272"/><stop offset=".5" stop-color="#686868"/><stop offset=".5208" stop-color="#636363"/><stop offset=".5417" stop-color="#5e5e5e"/><stop offset=".5625" stop-color="#606060"/><stop offset=".5833" stop-color="#646464"/><stop offset=".6042" stop-color="#656565"/><stop offset=".625" stop-color="#646464"/><stop offset=".6458" stop-color="#626262"/><stop offset=".6667" stop-color="#616161"/><stop offset=".6875" stop-color="#616161"/><stop offset=".7083" stop-color="#676767"/><stop offset=".7292" stop-color="#727272"/><stop offset=".75" stop-color="#818181"/><stop offset=".7708" stop-color="#989898"/><stop offset=".7917" stop-color="#aeaeae"/><stop offset=".8125" stop-color="#bfbfbf"/><stop offset=".8333" stop-color="#cccccc"/><stop offset=".8542" stop-color="#d3d3d3"/><stop offset=".875" stop-color="#d6d6d6"/><stop offset=".8958" stop-color="#d4d4d4"/><stop offset=".9167" stop-color="#d1d1d1"/><stop offset=".9375" stop-color="#cdcdcd"/><stop offset=".9583" stop-color="#c9c9c9"/><stop offset=".9792" stop-color="#c6c6c6"/><stop offset="1" stop-color="#c4c4c4"/></linearGradient><linearGradient id="r18" href="#r"><stop offset="0" stop-color="#c8c8c8"/><stop offset=".0208" stop-color="#c6c6c6"/><stop offset=".0417" stop-color="#c3c3c3"/><stop offset=".0625" stop-color="#c0c0c0"/><stop offset=".0833" stop-color="#bdbdbd"/><stop offset=".1042" stop-color="#bbbbbb"/><stop offset=".125" stop-color="#b8b8b8"/><stop offset=".1458" stop-color="#b6b6b6"/><stop offset=".1667" stop-color="#b1b1b1"/><stop offset=".1875" stop-color="#a5a5a5"/><stop offset=".2083" stop-color="#8e8e8e"/><stop offset=".2292" stop-color="#767676"/><stop offset=".25" stop-color="#5f5f5f"/><stop offset=".2708" stop-color="#3e3e3e"/><stop offset=".2917" stop-color="#1f1f1f"/><stop offset=".3125" stop-color="#1b1b1b"/><stop offset=".3333" stop-color="#2f2f2f"/><stop offset=".3542" stop-color="#525252"/><stop offset=".375" stop-color="#6c6c6c"/><stop offset=".3958" stop-color="#7b7b7b"/><stop offset=".4167" stop-color="#828282"/><stop offset=".4375" stop-color="#7e7e7e"/><stop offset=".4583" stop-color="#707070"/><stop offset=".4792" stop-color="#616161"/><stop offset=".5" stop-color="#585858"/><stop offset=".5208" stop-color="#555555"/><stop offset=".5417" stop-color="#535353"/><stop offset=".5625" stop-color="#565656"/><stop offset=".5833" stop-color="#5a5a5a"/><stop offset=".6042" stop-color="#5d5d5d"/><stop offset=".625" stop-color="#5e5e5e"/><stop offset=".6458" stop-color="#5e5e5e"/><stop offset=".6667" stop-color="#5a5a5a"/><stop offset=".6875" stop-color="#585858"/><stop offset=".7083" stop-color="#5c5c5c"/><stop offset=".7292" stop-color="#676767"/><stop offset=".75" stop-color="#7d7d7d"/><stop offset=".7708" stop-color="#989898"/><stop offset=".7917" stop-color="#b0b0b0"/><stop offset=".8125" stop-color="#c1c1c1"/><stop offset=".8333" stop-color="#cccccc"/><stop offset=".8542" stop-color="#d1d1d1"/><stop offset=".875" stop-color="#d3d3d3"/><stop offset=".8958" stop-color="#d1d1d1"/><stop offset=".9167" stop-color="#cecece"/><stop offset=".9375" stop-color="#cacaca"/><stop offset=".9583" stop-color="#c6c6c6"/><stop offset=".9792" stop-color="#c2c2c2"/><stop offset="1" stop-color="#c0c0c0"/></linearGradient><linearGradient id="r19" href="#r"><stop offset="0" stop-color="#c6c6c6"/><stop offset=".0208" stop-color="#c4c4c4"/><stop offset=".0417" stop-color="#c1c1c1"/><stop offset=".0625" stop-color="#bebebe"/><stop offset=".0833" stop-color="#bbbbbb"/><stop offset=".1042" stop-color="#b8b8b8"/><stop offset=".125" stop-color="#b6b6b6"/><stop offset=".1458" stop-color="#b4b4b4"/><stop offset=".1667" stop-color="#b0b0b0"/><stop offset=".1875" stop-color="#a3a3a3"/><stop offset=".2083" stop-color="#8e8e8e"/><stop offset=".2292" stop-color="#777777"/><stop offset=".25" stop-color="#5f5f5f"/><stop offset=".2708" stop-color="#3a3a3a"/><stop offset=".2917" stop-color="#191919"/><stop offset=".3125" stop-color="#0e0e0e"/><stop offset=".3333" stop-color="#141414"/><stop offset=".3542" stop-color="#2e2e2e"/><stop offset=".375" stop-color="#585858"/><stop offset=".3958" stop-color="#717171"/><stop offset=".4167" stop-color="#787878"/><stop offset=".4375" stop-color="#717171"/><stop offset=".4583" stop-color="#626262"/><stop offset=".4792" stop-color="#555555"/><stop offset=".5" stop-color="#4e4e4e"/><stop offset=".5208" stop-color="#4c4c4c"/><stop offset=".5417" stop-color="#4c4c4c"/><stop offset=".5625" stop-color="#505050"/><stop offset=".5833" stop-color="#555555"/><stop offset=".6042" stop-color="#595959"/><stop offset=".625" stop-color="#5c5c5c"/><stop offset=".6458" stop-color="#5b5b5b"/><stop offset=".6667" stop-color="#565656"/><stop offset=".6875" stop-color="#525252"/><stop offset=".7083" stop-color="#535353"/><stop offset=".7292" stop-color="#5f5f5f"/><stop offset=".75" stop-color="#7a7a7a"/><stop offset=".7708" stop-color="#9b9b9b"/><stop offset=".7917" stop-color="#b4b4b4"/><stop offset=".8125" stop-color="#c3c3c3"/><stop offset=".8333" stop-color="#cccccc"/><stop offset=".8542" stop-color="#d0d0d0"/><stop offset=".875" stop-color="#d0d0d0"/><stop offset=".8958" stop-color="#cfcfcf"/><stop offset=".9167" stop-color="#cbcbcb"/><stop offset=".9375" stop-color="#c7c7c7"/><stop offset=".9583" stop-color="#c4c4c4"/><stop offset=".9792" stop-color="#c0c0c0"/><stop offset="1" stop-color="#bebebe"/></linearGradient><linearGradient id="r20" href="#r"><stop offset="0" stop-color="#c5c5c5"/><stop offset=".0208" stop-color="#c3c3c3"/><stop offset=".0417" stop-color="#c0c0c0"/><stop offset=".0625" stop-color="#bcbcbc"/><stop offset=".0833" stop-color="#b9b9b9"/><stop offset=".1042" stop-color="#b6b6b6"/><stop offset=".125" stop-color="#b4b4b4"/><stop offset=".1458" stop-color="#b3b3b3"/><stop offset=".1667" stop-color="#afafaf"/><stop offset=".1875" stop-color="#a3a3a3"/><stop offset=".2083" stop-color="#8e8e8e"/><stop offset=".2292" stop-color="#787878"/><stop offset=".25" stop-color="#5e5e5e"/><stop offset=".2708" stop-color="#373737"/><stop offset=".2917" stop-color="#171717"/><stop offset=".3125" stop-color="#0d0d0d"/><stop offset=".3333" stop-color="#0f0f0f"/><stop offset=".3542" stop-color="#1d1d1d"/><stop offset=".375" stop-color="#414141"/><stop offset=".3958" stop-color="#5f5f5f"/><stop offset=".4167" stop-color="#6a6a6a"/><stop offset=".4375" stop-color="#636363"/><stop offset=".4583" stop-color="#565656"/><stop offset=".4792" stop-color="#4c4c4c"/><stop offset=".5" stop-color="#464646"/><stop offset=".5208" stop-color="#444444"/><stop offset=".5417" stop-color="#464646"/><stop offset=".5625" stop-color="#4a4a4a"/><stop offset=".5833" stop-color="#515151"/><stop offset=".6042" stop-color="#585858"/><stop offset=".625" stop-color="#5b5b5b"/><stop offset=".6458" stop-color="#595959"/><stop offset=".6667" stop-color="#535353"/><stop offset=".6875" stop-color="#4d4d4d"/><stop offset=".7083" stop-color="#4e4e4e"/><stop offset=".7292" stop-color="#5a5a5a"/><stop offset=".75" stop-color="#787878"/><stop offset=".7708" stop-color="#9e9e9e"/><stop offset=".7917" stop-color="#b8b8b8"/><stop offset=".8125" stop-color="#c6c6c6"/><stop offset=".8333" stop-color="#cccccc"/><stop offset=".8542" stop-color="#cfcfcf"/><stop offset=".875" stop-color="#cecece"/><stop offset=".8958" stop-color="#cccccc"/><stop offset=".9167" stop-color="#cacaca"/><stop offset=".9375" stop-color="#c6c6c6"/><stop offset=".9583" stop-color="#c3c3c3"/><stop offset=".9792" stop-color="#c0c0c0"/><stop offset="1" stop-color="#bebebe"/></linearGradient><linearGradient id="r21" href="#r"><stop offset="0" stop-color="#c4c4c4"/><stop offset=".0208" stop-color="#c2c2c2"/><stop offset=".0417" stop-color="#bfbfbf"/><stop offset=".0625" stop-color="#bcbcbc"/><stop offset=".0833" stop-color="#b8b8b8"/><stop offset=".1042" stop-color="#b6b6b6"/><stop offset=".125" stop-color="#b4b4b4"/><stop offset=".1458" stop-color="#b3b3b3"/><stop offset=".1667" stop-color="#aeaeae"/><stop offset=".1875" stop-color="#a2a2a2"/><stop offset=".2083" stop-color="#8e8e8e"/><stop offset=".2292" stop-color="#787878"/><stop offset=".25" stop-color="#5f5f5f"/><stop offset=".2708" stop-color="#383838"/><stop offset=".2917" stop-color="#191919"/><stop offset=".3125" stop-color="#111111"/><stop offset=".3333" stop-color="#0f0f0f"/><stop offset=".3542" stop-color="#141414"/><stop offset=".375" stop-color="#2d2d2d"/><stop offset=".3958" stop-color="#4e4e4e"/><stop offset=".4167" stop-color="#5e5e5e"/><stop offset=".4375" stop-color="#595959"/><stop offset=".4583" stop-color="#4e4e4e"/><stop offset=".4792" stop-color="#434343"/><stop offset=".5" stop-color="#3c3c3c"/><stop offset=".5208" stop-color="#3a3a3a"/><stop offset=".5417" stop-color="#3d3d3d"/><stop offset=".5625" stop-color="#444444"/><stop offset=".5833" stop-color="#4e4e4e"/><stop offset=".6042" stop-color="#575757"/><stop offset=".625" stop-color="#5a5a5a"/><stop offset=".6458" stop-color="#575757"/><stop offset=".6667" stop-color="#525252"/><stop offset=".6875" stop-color="#4e4e4e"/><stop offset=".7083" stop-color="#4e4e4e"/><stop offset=".7292" stop-color="#5d5d5d"/><stop offset=".75" stop-color="#7f7f7f"/><stop offset=".7708" stop-color="#a6a6a6"/><stop offset=".7917" stop-color="#bebebe"/><stop offset=".8125" stop-color="#c9c9c9"/><stop offset=".8333" stop-color="#cecece"/><stop offset=".8542" stop-color="#cfcfcf"/><stop offset=".875" stop-color="#cdcdcd"/><stop offset=".8958" stop-color="#cbcbcb"/><stop offset=".9167" stop-color="#c9c9c9"/><stop offset=".9375" stop-color="#c6c6c6"/><stop offset=".9583" stop-color="#c4c4c4"/><stop offset=".9792" stop-color="#c2c2c2"/><stop offset="1" stop-color="#c0c0c0"/></linearGradient><linearGradient id="r22" href="#r"><stop offset="0" stop-color="#c4c4c4"/><stop offset=".0208" stop-color="#c2c2c2"/><stop offset=".0417" stop-color="#bfbfbf"/><stop offset=".0625" stop-color="#bcbcbc"/><stop offset=".0833" stop-color="#b9b9b9"/><stop offset=".1042" stop-color="#b6b6b6"/><stop offset=".125" stop-color="#b5b5b5"/><stop offset=".1458" stop-color="#b3b3b3"/><stop offset=".1667" stop-color="#aeaeae"/><stop offset=".1875" stop-color="#a3a3a3"/><stop offset=".2083" stop-color="#909090"/><stop offset=".2292" stop-color="#7b7b7b"/><stop offset=".25" stop-color="#636363"/><stop offset=".2708" stop-color="#414141"/><stop offset=".2917" stop-color="#1f1f1f"/><stop offset=".3125" stop-color="#101010"/><stop offset=".3333" stop-color="#090909"/><stop offset=".3542" stop-color="#0f0f0f"/><stop offset=".375" stop-color="#242424"/><stop offset=".3958" stop-color="#444444"/><stop offset=".4167" stop-color="#535353"/><stop offset=".4375" stop-color="#505050"/><stop offset=".4583" stop-color="#474747"/><stop offset=".4792" stop-color="#3c3c3c"/><stop offset=".5" stop-color="#333333"/><stop offset=".5208" stop-color="#2d2d2d"/><stop offset=".5417" stop-color="#313131"/><stop offset=".5625" stop-color="#3c3c3c"/><stop offset=".5833" stop-color="#494949"/><stop offset=".6042" stop-color="#555555"/><stop offset=".625" stop-color="#595959"/><stop offset=".6458" stop-color="#575757"/><stop offset=".6667" stop-color="#535353"/><stop offset=".6875" stop-color="#515151"/><stop offset=".7083" stop-color="#525252"/><stop offset=".7292" stop-color="#636363"/><stop offset=".75" stop-color="#878787"/><stop offset=".7708" stop-color="#adadad"/><stop offset=".7917" stop-color="#c3c3c3"/><stop offset=".8125" stop-color="#cdcdcd"/><stop offset=".8333" stop-color="#d0d0d0"/><stop offset=".8542" stop-color="#cfcfcf"/><stop offset=".875" stop-color="#cccccc"/><stop offset=".8958" stop-color="#cacaca"/><stop offset=".9167" stop-color="#c9c9c9"/><stop offset=".9375" stop-color="#c7c7c7"/><stop offset=".9583" stop-color="#c5c5c5"/><stop offset=".9792" stop-color="#c4c4c4"/><stop offset="1" stop-color="#c2c2c2"/></linearGradient><linearGradient id="r23" href="#r"><stop offset="0" stop-color="#c5c5c5"/><stop offset=".0208" stop-color="#c4c4c4"/><stop offset=".0417" stop-color="#c1c1c1"/><stop offset=".0625" stop-color="#bdbdbd"/><stop offset=".0833" stop-color="#b9b9b9"/><stop offset=".1042" stop-color="#b7b7b7"/><stop offset=".125" stop-color="#b5b5b5"/><stop offset=".1458" stop-color="#b2b2b2"/><stop offset=".1667" stop-color="#aeaeae"/><stop offset=".1875" stop-color="#a4a4a4"/><stop offset=".2083" stop-color="#929292"/><stop offset=".2292" stop-color="#7d7d7d"/><stop offset=".25" stop-color="#696969"/><stop offset=".2708" stop-color="#4c4c4c"/><stop offset=".2917" stop-color="#272727"/><stop offset=".3125" stop-color="#131313"/><stop offset=".3333" stop-color="#0c0c0c"/><stop offset=".3542" stop-color="#111111"/><stop offset=".375" stop-color="#1f1f1f"/><stop offset=".3958" stop-color="#383838"/><stop offset=".4167" stop-color="#484848"/><stop offset=".4375" stop-color="#494949"/><stop offset=".4583" stop-color="#424242"/><stop offset=".4792" stop-color="#373737"/><stop offset=".5" stop-color="#2c2c2c"/><stop offset=".5208" stop-color="#262626"/><stop offset=".5417" stop-color="#2a2a2a"/><stop offset=".5625" stop-color="#363636"/><stop offset=".5833" stop-color="#464646"/><stop offset=".6042" stop-color="#535353"/><stop offset=".625" stop-color="#595959"/><stop offset=".6458" stop-color="#575757"/><stop offset=".6667" stop-color="#545454"/><stop offset=".6875" stop-color="#535353"/><stop offset=".7083" stop-color="#585858"/><stop offset=".7292" stop-color="#6a6a6a"/><stop offset=".75" stop-color="#8f8f8f"/><stop offset=".7708" stop-color="#b5b5b5"/><stop offset=".7917" stop-color="#c8c8c8"/><stop offset=".8125" stop-color="#d0d0d0"/><stop offset=".8333" stop-color="#d1d1d1"/><stop offset=".8542" stop-color="#d0d0d0"/><stop offset=".875" stop-color="#cdcdcd"/><stop offset=".8958" stop-color="#cbcbcb"/><stop offset=".9167" stop-color="#cacaca"/><stop offset=".9375" stop-color="#c8c8c8"/><stop offset=".9583" stop-color="#c7c7c7"/><stop offset=".9792" stop-color="#c5c5c5"/><stop offset="1" stop-color="#c4c4c4"/></linearGradient><linearGradient id="r24" href="#r"><stop offset="0" stop-color="#c7c7c7"/><stop offset=".0208" stop-color="#c5c5c5"/><stop offset=".0417" stop-color="#c2c2c2"/><stop offset=".0625" stop-color="#bebebe"/><stop offset=".0833" stop-color="#bbbbbb"/><stop offset=".1042" stop-color="#b8b8b8"/><stop offset=".125" stop-color="#b5b5b5"/><stop offset=".1458" stop-color="#b2b2b2"/><stop offset=".1667" stop-color="#adadad"/><stop offset=".1875" stop-color="#a5a5a5"/><stop offset=".2083" stop-color="#949494"/><stop offset=".2292" stop-color="#7f7f7f"/><stop offset=".25" stop-color="#6c6c6c"/><stop offset=".2708" stop-color="#545454"/><stop offset=".2917" stop-color="#343434"/><stop offset=".3125" stop-color="#1b1b1b"/><stop offset=".3333" stop-color="#111111"/><stop offset=".3542" stop-color="#141414"/><stop offset=".375" stop-color="#1e1e1e"/><stop offset=".3958" stop-color="#303030"/><stop offset=".4167" stop-color="#404040"/><stop offset=".4375" stop-color="#434343"/><stop offset=".4583" stop-color="#3d3d3d"/><stop offset=".4792" stop-color="#343434"/><stop offset=".5" stop-color="#2a2a2a"/><stop offset=".5208" stop-color="#242424"/><stop offset=".5417" stop-color="#282828"/><stop offset=".5625" stop-color="#343434"/><stop offset=".5833" stop-color="#444444"/><stop offset=".6042" stop-color="#525252"/><stop offset=".625" stop-color="#595959"/><stop offset=".6458" stop-color="#595959"/><stop offset=".6667" stop-color="#575757"/><stop offset=".6875" stop-color="#585858"/><stop offset=".7083" stop-color="#656565"/><stop offset=".7292" stop-color="#7c7c7c"/><stop offset=".75" stop-color="#9d9d9d"/><stop offset=".7708" stop-color="#bbbbbb"/><stop offset=".7917" stop-color="#cacaca"/><stop offset=".8125" stop-color="#d1d1d1"/><stop offset=".8333" stop-color="#d3d3d3"/><stop offset=".8542" stop-color="#d2d2d2"/><stop offset=".875" stop-color="#d0d0d0"/><stop offset=".8958" stop-color="#cecece"/><stop offset=".9167" stop-color="#cdcdcd"/><stop offset=".9375" stop-color="#cbcbcb"/><stop offset=".9583" stop-color="#c9c9c9"/><stop offset=".9792" stop-color="#c6c6c6"/><stop offset="1" stop-color="#c4c4c4"/></linearGradient><linearGradient id="r25" href="#r"><stop offset="0" stop-color="#c7c7c7"/><stop offset=".0208" stop-color="#c5c5c5"/><stop offset=".0417" stop-color="#c3c3c3"/><stop offset=".0625" stop-color="#c0c0c0"/><stop offset=".0833" stop-color="#bdbdbd"/><stop offset=".1042" stop-color="#b9b9b9"/><stop offset=".125" stop-color="#b5b5b5"/><stop offset=".1458" stop-color="#b1b1b1"/><stop offset=".1667" stop-color="#aeaeae"/><stop offset=".1875" stop-color="#a8a8a8"/><stop offset=".2083" stop-color="#989898"/><stop offset=".2292" stop-color="#808080"/><stop offset=".25" stop-color="#6e6e6e"/><stop offset=".2708" stop-color="#5c5c5c"/><stop offset=".2917" stop-color="#424242"/><stop offset=".3125" stop-color="#262626"/><stop offset=".3333" stop-color="#171717"/><stop offset=".3542" stop-color="#171717"/><stop offset=".375" stop-color="#202020"/><stop offset=".3958" stop-color="#2f2f2f"/><stop offset=".4167" stop-color="#3d3d3d"/><stop offset=".4375" stop-color="#404040"/><stop offset=".4583" stop-color="#3a3a3a"/><stop offset=".4792" stop-color="#313131"/><stop offset=".5" stop-color="#2a2a2a"/><stop offset=".5208" stop-color="#272727"/><stop offset=".5417" stop-color="#2b2b2b"/><stop offset=".5625" stop-color="#373737"/><stop offset=".5833" stop-color="#454545"/><stop offset=".6042" stop-color="#535353"/><stop offset=".625" stop-color="#5b5b5b"/><stop offset=".6458" stop-color="#5e5e5e"/><stop offset=".6667" stop-color="#606060"/><stop offset=".6875" stop-color="#676767"/><stop offset=".7083" stop-color="#787878"/><stop offset=".7292" stop-color="#8e8e8e"/><stop offset=".75" stop-color="#a8a8a8"/><stop offset=".7708" stop-color="#bebebe"/><stop offset=".7917" stop-color="#cbcbcb"/><stop offset=".8125" stop-color="#d2d2d2"/><stop offset=".8333" stop-color="#d4d4d4"/><stop offset=".8542" stop-color="#d4d4d4"/><stop offset=".875" stop-color="#d4d4d4"/><stop offset=".8958" stop-color="#d2d2d2"/><stop offset=".9167" stop-color="#d1d1d1"/><stop offset=".9375" stop-color="#cecece"/><stop offset=".9583" stop-color="#cbcbcb"/><stop offset=".9792" stop-color="#c8c8c8"/><stop offset="1" stop-color="#c6c6c6"/></linearGradient><linearGradient id="r26" href="#r"><stop offset="0" stop-color="#c9c9c9"/><stop offset=".0208" stop-color="#c6c6c6"/><stop offset=".0417" stop-color="#c4c4c4"/><stop offset=".0625" stop-color="#c2c2c2"/><stop offset=".0833" stop-color="#c0c0c0"/><stop offset=".1042" stop-color="#bcbcbc"/><stop offset=".125" stop-color="#b7b7b7"/><stop offset=".1458" stop-color="#b3b3b3"/><stop offset=".1667" stop-color="#b1b1b1"/><stop offset=".1875" stop-color="#adadad"/><stop offset=".2083" stop-color="#a1a1a1"/><stop offset=".2292" stop-color="#898989"/><stop offset=".25" stop-color="#737373"/><stop offset=".2708" stop-color="#646464"/><stop offset=".2917" stop-color="#535353"/><stop offset=".3125" stop-color="#383838"/><stop offset=".3333" stop-color="#232323"/><stop offset=".3542" stop-color="#1b1b1b"/><stop offset=".375" stop-color="#222222"/><stop offset=".3958" stop-color="#2f2f2f"/><stop offset=".4167" stop-color="#3a3a3a"/><stop offset=".4375" stop-color="#3d3d3d"/><stop offset=".4583" stop-color="#373737"/><stop offset=".4792" stop-color="#303030"/><stop offset=".5" stop-color="#2c2c2c"/><stop offset=".5208" stop-color="#2c2c2c"/><stop offset=".5417" stop-color="#323232"/><stop offset=".5625" stop-color="#3d3d3d"/><stop offset=".5833" stop-color="#4a4a4a"/><stop offset=".6042" stop-color="#565656"/><stop offset=".625" stop-color="#5f5f5f"/><stop offset=".6458" stop-color="#656565"/><stop offset=".6667" stop-color="#6b6b6b"/><stop offset=".6875" stop-color="#767676"/><stop offset=".7083" stop-color="#868686"/><stop offset=".7292" stop-color="#989898"/><stop offset=".75" stop-color="#adadad"/><stop offset=".7708" stop-color="#c2c2c2"/><stop offset=".7917" stop-color="#cecece"/><stop offset=".8125" stop-color="#d4d4d4"/><stop offset=".8333" stop-color="#d7d7d7"/><stop offset=".8542" stop-color="#d8d8d8"/><stop offset=".875" stop-color="#d8d8d8"/><stop offset=".8958" stop-color="#d7d7d7"/><stop offset=".9167" stop-color="#d5d5d5"/><stop offset=".9375" stop-color="#d3d3d3"/><stop offset=".9583" stop-color="#d0d0d0"/><stop offset=".9792" stop-color="#cccccc"/><stop offset="1" stop-color="#c9c9c9"/></linearGradient><linearGradient id="r27" href="#r"><stop offset="0" stop-color="#cccccc"/><stop offset=".0208" stop-color="#cacaca"/><stop offset=".0417" stop-color="#c8c8c8"/><stop offset=".0625" stop-color="#c7c7c7"/><stop offset=".0833" stop-color="#c4c4c4"/><stop offset=".1042" stop-color="#c1c1c1"/><stop offset=".125" stop-color="#bcbcbc"/><stop offset=".1458" stop-color="#b8b8b8"/><stop offset=".1667" stop-color="#b6b6b6"/><stop offset=".1875" stop-color="#b4b4b4"/><stop offset=".2083" stop-color="#acacac"/><stop offset=".2292" stop-color="#949494"/><stop offset=".25" stop-color="#797979"/><stop offset=".2708" stop-color="#696969"/><stop offset=".2917" stop-color="#5c5c5c"/><stop offset=".3125" stop-color="#4a4a4a"/><stop offset=".3333" stop-color="#343434"/><stop offset=".3542" stop-color="#252525"/><stop offset=".375" stop-color="#282828"/><stop offset=".3958" stop-color="#313131"/><stop offset=".4167" stop-color="#393939"/><stop offset=".4375" stop-color="#3c3c3c"/><stop offset=".4583" stop-color="#383838"/><stop offset=".4792" stop-color="#343434"/><stop offset=".5" stop-color="#333333"/><stop offset=".5208" stop-color="#353535"/><stop offset=".5417" stop-color="#3b3b3b"/><stop offset=".5625" stop-color="#444444"/><stop offset=".5833" stop-color="#505050"/><stop offset=".6042" stop-color="#5b5b5b"/><stop offset=".625" stop-color="#646464"/><stop offset=".6458" stop-color="#6c6c6c"/><stop offset=".6667" stop-color="#747474"/><stop offset=".6875" stop-color="#808080"/><stop offset=".7083" stop-color="#8e8e8e"/><stop offset=".7292" stop-color="#9e9e9e"/><stop offset=".75" stop-color="#b2b2b2"/><stop offset=".7708" stop-color="#c6c6c6"/><stop offset=".7917" stop-color="#d3d3d3"/><stop offset=".8125" stop-color="#d9d9d9"/><stop offset=".8333" stop-color="#dcdcdc"/><stop offset=".8542" stop-color="#dedede"/><stop offset=".875" stop-color="#dedede"/><stop offset=".8958" stop-color="#dddddd"/><stop offset=".9167" stop-color="#dbdbdb"/><stop offset=".9375" stop-color="#d8d8d8"/><stop offset=".9583" stop-color="#d5d5d5"/><stop offset=".9792" stop-color="#d1d1d1"/><stop offset="1" stop-color="#cecece"/></linearGradient><linearGradient id="r28" href="#r"><stop offset="0" stop-color="#d0d0d0"/><stop offset=".0208" stop-color="#cfcfcf"/><stop offset=".0417" stop-color="#cecece"/><stop offset=".0625" stop-color="#cccccc"/><stop offset=".0833" stop-color="#cacaca"/><stop offset=".1042" stop-color="#c7c7c7"/><stop offset=".125" stop-color="#c2c2c2"/><stop offset=".1458" stop-color="#bebebe"/><stop offset=".1667" stop-color="#bbbbbb"/><stop offset=".1875" stop-color="#b9b9b9"/><stop offset=".2083" stop-color="#b3b3b3"/><stop offset=".2292" stop-color="#a1a1a1"/><stop offset=".25" stop-color="#838383"/><stop offset=".2708" stop-color="#6c6c6c"/><stop offset=".2917" stop-color="#5f5f5f"/><stop offset=".3125" stop-color="#585858"/><stop offset=".3333" stop-color="#454545"/><stop offset=".3542" stop-color="#363636"/><stop offset=".375" stop-color="#323232"/><stop offset=".3958" stop-color="#353535"/><stop offset=".4167" stop-color="#3b3b3b"/><stop offset=".4375" stop-color="#3e3e3e"/><stop offset=".4583" stop-color="#3e3e3e"/><stop offset=".4792" stop-color="#3b3b3b"/><stop offset=".5" stop-color="#3b3b3b"/><stop offset=".5208" stop-color="#3d3d3d"/><stop offset=".5417" stop-color="#424242"/><stop offset=".5625" stop-color="#4b4b4b"/><stop offset=".5833" stop-color="#565656"/><stop offset=".6042" stop-color="#606060"/><stop offset=".625" stop-color="#696969"/><stop offset=".6458" stop-color="#717171"/><stop offset=".6667" stop-color="#7b7b7b"/><stop offset=".6875" stop-color="#868686"/><stop offset=".7083" stop-color="#939393"/><stop offset=".7292" stop-color="#a3a3a3"/><stop offset=".75" stop-color="#b7b7b7"/><stop offset=".7708" stop-color="#cbcbcb"/><stop offset=".7917" stop-color="#d9d9d9"/><stop offset=".8125" stop-color="#dfdfdf"/><stop offset=".8333" stop-color="#e2e2e2"/><stop offset=".8542" stop-color="#e3e3e3"/><stop offset=".875" stop-color="#e3e3e3"/><stop offset=".8958" stop-color="#e2e2e2"/><stop offset=".9167" stop-color="#e1e1e1"/><stop offset=".9375" stop-color="#dedede"/><stop offset=".9583" stop-color="#dadada"/><stop offset=".9792" stop-color="#d7d7d7"/><stop offset="1" stop-color="#d3d3d3"/></linearGradient><linearGradient id="r29" href="#r"><stop offset="0" stop-color="#d5d5d5"/><stop offset=".0208" stop-color="#d4d4d4"/><stop offset=".0417" stop-color="#d3d3d3"/><stop offset=".0625" stop-color="#d2d2d2"/><stop offset=".0833" stop-color="#d1d1d1"/><stop offset=".1042" stop-color="#cecece"/><stop offset=".125" stop-color="#cacaca"/><stop offset=".1458" stop-color="#c5c5c5"/><stop offset=".1667" stop-color="#c0c0c0"/><stop offset=".1875" stop-color="#bebebe"/><stop offset=".2083" stop-color="#bbbbbb"/><stop offset=".2292" stop-color="#aeaeae"/><stop offset=".25" stop-color="#8e8e8e"/><stop offset=".2708" stop-color="#717171"/><stop offset=".2917" stop-color="#646464"/><stop offset=".3125" stop-color="#5c5c5c"/><stop offset=".3333" stop-color="#515151"/><stop offset=".3542" stop-color="#454545"/><stop offset=".375" stop-color="#3d3d3d"/><stop offset=".3958" stop-color="#3c3c3c"/><stop offset=".4167" stop-color="#3f3f3f"/><stop offset=".4375" stop-color="#444444"/><stop offset=".4583" stop-color="#464646"/><stop offset=".4792" stop-color="#444444"/><stop offset=".5" stop-color="#414141"/><stop offset=".5208" stop-color="#424242"/><stop offset=".5417" stop-color="#474747"/><stop offset=".5625" stop-color="#505050"/><stop offset=".5833" stop-color="#5a5a5a"/><stop offset=".6042" stop-color="#646464"/><stop offset=".625" stop-color="#6d6d6d"/><stop offset=".6458" stop-color="#767676"/><stop offset=".6667" stop-color="#7f7f7f"/><stop offset=".6875" stop-color="#8b8b8b"/><stop offset=".7083" stop-color="#989898"/><stop offset=".7292" stop-color="#a8a8a8"/><stop offset=".75" stop-color="#bcbcbc"/><stop offset=".7708" stop-color="#cfcfcf"/><stop offset=".7917" stop-color="#dedede"/><stop offset=".8125" stop-color="#e4e4e4"/><stop offset=".8333" stop-color="#e7e7e7"/><stop offset=".8542" stop-color="#e8e8e8"/><stop offset=".875" stop-color="#e9e9e9"/><stop offset=".8958" stop-color="#e8e8e8"/><stop offset=".9167" stop-color="#e6e6e6"/><stop offset=".9375" stop-color="#e3e3e3"/><stop offset=".9583" stop-color="#dfdfdf"/><stop offset=".9792" stop-color="#dbdbdb"/><stop offset="1" stop-color="#d8d8d8"/></linearGradient><linearGradient id="r30" href="#r"><stop offset="0" stop-color="#d9d9d9"/><stop offset=".0208" stop-color="#d9d9d9"/><stop offset=".0417" stop-color="#d8d8d8"/><stop offset=".0625" stop-color="#d8d8d8"/><stop offset=".0833" stop-color="#d7d7d7"/><stop offset=".1042" stop-color="#d5d5d5"/><stop offset=".125" stop-color="#d1d1d1"/><stop offset=".1458" stop-color="#cccccc"/><stop offset=".1667" stop-color="#c7c7c7"/><stop offset=".1875" stop-color="#c4c4c4"/><stop offset=".2083" stop-color="#c1c1c1"/><stop offset=".2292" stop-color="#b6b6b6"/><stop offset=".25" stop-color="#9e9e9e"/><stop offset=".2708" stop-color="#7f7f7f"/><stop offset=".2917" stop-color="#6a6a6a"/><stop offset=".3125" stop-color="#616161"/><stop offset=".3333" stop-color="#595959"/><stop offset=".3542" stop-color="#505050"/><stop offset=".375" stop-color="#484848"/><stop offset=".3958" stop-color="#434343"/><stop offset=".4167" stop-color="#464646"/><stop offset=".4375" stop-color="#4c4c4c"/><stop offset=".4583" stop-color="#505050"/><stop offset=".4792" stop-color="#4d4d4d"/><stop offset=".5" stop-color="#474747"/><stop offset=".5208" stop-color="#444444"/><stop offset=".5417" stop-color="#4a4a4a"/><stop offset=".5625" stop-color="#535353"/><stop offset=".5833" stop-color="#5e5e5e"/><stop offset=".6042" stop-color="#686868"/><stop offset=".625" stop-color="#707070"/><stop offset=".6458" stop-color="#797979"/><stop offset=".6667" stop-color="#838383"/><stop offset=".6875" stop-color="#8f8f8f"/><stop offset=".7083" stop-color="#9d9d9d"/><stop offset=".7292" stop-color="#aeaeae"/><stop offset=".75" stop-color="#c0c0c0"/><stop offset=".7708" stop-color="#d2d2d2"/><stop offset=".7917" stop-color="#dfdfdf"/><stop offset=".8125" stop-color="#e7e7e7"/><stop offset=".8333" stop-color="#ebebeb"/><stop offset=".8542" stop-color="#ededed"/><stop offset=".875" stop-color="#ededed"/><stop offset=".8958" stop-color="#ececec"/><stop offset=".9167" stop-color="#eaeaea"/><stop offset=".9375" stop-color="#e7e7e7"/><stop offset=".9583" stop-color="#e4e4e4"/><stop offset=".9792" stop-color="#e0e0e0"/><stop offset="1" stop-color="#dcdcdc"/></linearGradient><linearGradient id="r31" href="#r"><stop offset="0" stop-color="#dddddd"/><stop offset=".0208" stop-color="#dddddd"/><stop offset=".0417" stop-color="#dedede"/><stop offset=".0625" stop-color="#dedede"/><stop offset=".0833" stop-color="#dddddd"/><stop offset=".1042" stop-color="#dcdcdc"/><stop offset=".125" stop-color="#d8d8d8"/><stop offset=".1458" stop-color="#d3d3d3"/><stop offset=".1667" stop-color="#cecece"/><stop offset=".1875" stop-color="#cacaca"/><stop offset=".2083" stop-color="#c7c7c7"/><stop offset=".2292" stop-color="#c0c0c0"/><stop offset=".25" stop-color="#b0b0b0"/><stop offset=".2708" stop-color="#909090"/><stop offset=".2917" stop-color="#737373"/><stop offset=".3125" stop-color="#666666"/><stop offset=".3333" stop-color="#5f5f5f"/><stop offset=".3542" stop-color="#5a5a5a"/><stop offset=".375" stop-color="#525252"/><stop offset=".3958" stop-color="#4b4b4b"/><stop offset=".4167" stop-color="#4e4e4e"/><stop offset=".4375" stop-color="#555555"/><stop offset=".4583" stop-color="#5a5a5a"/><stop offset=".4792" stop-color="#565656"/><stop offset=".5" stop-color="#4e4e4e"/><stop offset=".5208" stop-color="#494949"/><stop offset=".5417" stop-color="#4e4e4e"/><stop offset=".5625" stop-color="#585858"/><stop offset=".5833" stop-color="#626262"/><stop offset=".6042" stop-color="#6b6b6b"/><stop offset=".625" stop-color="#747474"/><stop offset=".6458" stop-color="#7d7d7d"/><stop offset=".6667" stop-color="#888888"/><stop offset=".6875" stop-color="#949494"/><stop offset=".7083" stop-color="#a3a3a3"/><stop offset=".7292" stop-color="#b3b3b3"/><stop offset=".75" stop-color="#c5c5c5"/><stop offset=".7708" stop-color="#d5d5d5"/><stop offset=".7917" stop-color="#e2e2e2"/><stop offset=".8125" stop-color="#eaeaea"/><stop offset=".8333" stop-color="#eeeeee"/><stop offset=".8542" stop-color="#f1f1f1"/><stop offset=".875" stop-color="#f1f1f1"/><stop offset=".8958" stop-color="#f0f0f0"/><stop offset=".9167" stop-color="#eeeeee"/><stop offset=".9375" stop-color="#ebebeb"/><stop offset=".9583" stop-color="#e7e7e7"/><stop offset=".9792" stop-color="#e3e3e3"/><stop offset="1" stop-color="#e0e0e0"/></linearGradient><linearGradient id="r32" href="#r"><stop offset="0" stop-color="#e2e2e2"/><stop offset=".0208" stop-color="#e2e2e2"/><stop offset=".0417" stop-color="#e2e2e2"/><stop offset=".0625" stop-color="#e3e3e3"/><stop offset=".0833" stop-color="#e2e2e2"/><stop offset=".1042" stop-color="#e1e1e1"/><stop offset=".125" stop-color="#dedede"/><stop offset=".1458" stop-color="#d9d9d9"/><stop offset=".1667" stop-color="#d5d5d5"/><stop offset=".1875" stop-color="#d1d1d1"/><stop offset=".2083" stop-color="#cecece"/><stop offset=".2292" stop-color="#c9c9c9"/><stop offset=".25" stop-color="#bbbbbb"/><stop offset=".2708" stop-color="#a1a1a1"/><stop offset=".2917" stop-color="#828282"/><stop offset=".3125" stop-color="#6e6e6e"/><stop offset=".3333" stop-color="#666666"/><stop offset=".3542" stop-color="#616161"/><stop offset=".375" stop-color="#5b5b5b"/><stop offset=".3958" stop-color="#555555"/><stop offset=".4167" stop-color="#575757"/><stop offset=".4375" stop-color="#5d5d5d"/><stop offset=".4583" stop-color="#606060"/><stop offset=".4792" stop-color="#5d5d5d"/><stop offset=".5" stop-color="#555555"/><stop offset=".5208" stop-color="#505050"/><stop offset=".5417" stop-color="#545454"/><stop offset=".5625" stop-color="#5d5d5d"/><stop offset=".5833" stop-color="#666666"/><stop offset=".6042" stop-color="#6f6f6f"/><stop offset=".625" stop-color="#787878"/><stop offset=".6458" stop-color="#828282"/><stop offset=".6667" stop-color="#8d8d8d"/><stop offset=".6875" stop-color="#9a9a9a"/><stop offset=".7083" stop-color="#a9a9a9"/><stop offset=".7292" stop-color="#b9b9b9"/><stop offset=".75" stop-color="#cacaca"/><stop offset=".7708" stop-color="#d9d9d9"/><stop offset=".7917" stop-color="#e5e5e5"/><stop offset=".8125" stop-color="#ededed"/><stop offset=".8333" stop-color="#f1f1f1"/><stop offset=".8542" stop-color="#f3f3f3"/><stop offset=".875" stop-color="#f4f4f4"/><stop offset=".8958" stop-color="#f3f3f3"/><stop offset=".9167" stop-color="#f1f1f1"/><stop offset=".9375" stop-color="#eeeeee"/><stop offset=".9583" stop-color="#eaeaea"/><stop offset=".9792" stop-color="#e7e7e7"/><stop offset="1" stop-color="#e3e3e3"/></linearGradient><linearGradient id="r33" href="#r"><stop offset="0" stop-color="#e6e6e6"/><stop offset=".0208" stop-color="#e6e6e6"/><stop offset=".0417" stop-color="#e7e7e7"/><stop offset=".0625" stop-color="#e7e7e7"/><stop offset=".0833" stop-color="#e7e7e7"/><stop offset=".1042" stop-color="#e5e5e5"/><stop offset=".125" stop-color="#e3e3e3"/><stop offset=".1458" stop-color="#e0e0e0"/><stop offset=".1667" stop-color="#dcdcdc"/><stop offset=".1875" stop-color="#d9d9d9"/><stop offset=".2083" stop-color="#d6d6d6"/><stop offset=".2292" stop-color="#d1d1d1"/><stop offset=".25" stop-color="#c6c6c6"/><stop offset=".2708" stop-color="#b3b3b3"/><stop offset=".2917" stop-color="#969696"/><stop offset=".3125" stop-color="#7d7d7d"/><stop offset=".3333" stop-color="#707070"/><stop offset=".3542" stop-color="#686868"/><stop offset=".375" stop-color="#626262"/><stop offset=".3958" stop-color="#5e5e5e"/><stop offset=".4167" stop-color="#5f5f5f"/><stop offset=".4375" stop-color="#626262"/><stop offset=".4583" stop-color="#646464"/><stop offset=".4792" stop-color="#616161"/><stop offset=".5" stop-color="#5b5b5b"/><stop offset=".5208" stop-color="#585858"/><stop offset=".5417" stop-color="#5c5c5c"/><stop offset=".5625" stop-color="#636363"/><stop offset=".5833" stop-color="#6c6c6c"/><stop offset=".6042" stop-color="#747474"/><stop offset=".625" stop-color="#7d7d7d"/><stop offset=".6458" stop-color="#878787"/><stop offset=".6667" stop-color="#939393"/><stop offset=".6875" stop-color="#a0a0a0"/><stop offset=".7083" stop-color="#afafaf"/><stop offset=".7292" stop-color="#bebebe"/><stop offset=".75" stop-color="#cecece"/><stop offset=".7708" stop-color="#dcdcdc"/><stop offset=".7917" stop-color="#e7e7e7"/><stop offset=".8125" stop-color="#efefef"/><stop offset=".8333" stop-color="#f3f3f3"/><stop offset=".8542" stop-color="#f6f6f6"/><stop offset=".875" stop-color="#f6f6f6"/><stop offset=".8958" stop-color="#f6f6f6"/><stop offset=".9167" stop-color="#f4f4f4"/><stop offset=".9375" stop-color="#f1f1f1"/><stop offset=".9583" stop-color="#ededed"/><stop offset=".9792" stop-color="#eaeaea"/><stop offset="1" stop-color="#e6e6e6"/></linearGradient><linearGradient id="r34" href="#r"><stop offset="0" stop-color="#eaeaea"/><stop offset=".0208" stop-color="#eaeaea"/><stop offset=".0417" stop-color="#ebebeb"/><stop offset=".0625" stop-color="#ebebeb"/><stop offset=".0833" stop-color="#eaeaea"/><stop offset=".1042" stop-color="#e9e9e9"/><stop offset=".125" stop-color="#e8e8e8"/><stop offset=".1458" stop-color="#e6e6e6"/><stop offset=".1667" stop-color="#e3e3e3"/><stop offset=".1875" stop-color="#e1e1e1"/><stop offset=".2083" stop-color="#dedede"/><stop offset=".2292" stop-color="#dadada"/><stop offset=".25" stop-color="#d0d0d0"/><stop offset=".2708" stop-color="#c1c1c1"/><stop offset=".2917" stop-color="#ababab"/><stop offset=".3125" stop-color="#929292"/><stop offset=".3333" stop-color="#7e7e7e"/><stop offset=".3542" stop-color="#717171"/><stop offset=".375" stop-color="#6a6a6a"/><stop offset=".3958" stop-color="#676767"/><stop offset=".4167" stop-color="#676767"/><stop offset=".4375" stop-color="#686868"/><stop offset=".4583" stop-color="#686868"/><stop offset=".4792" stop-color="#666666"/><stop offset=".5" stop-color="#636363"/><stop offset=".5208" stop-color="#616161"/><stop offset=".5417" stop-color="#656565"/><stop offset=".5625" stop-color="#6b6b6b"/><stop offset=".5833" stop-color="#727272"/><stop offset=".6042" stop-color="#7a7a7a"/><stop offset=".625" stop-color="#838383"/><stop offset=".6458" stop-color="#8d8d8d"/><stop offset=".6667" stop-color="#989898"/><stop offset=".6875" stop-color="#a5a5a5"/><stop offset=".7083" stop-color="#b4b4b4"/><stop offset=".7292" stop-color="#c4c4c4"/><stop offset=".75" stop-color="#d2d2d2"/><stop offset=".7708" stop-color="#dfdfdf"/><stop offset=".7917" stop-color="#e9e9e9"/><stop offset=".8125" stop-color="#f0f0f0"/><stop offset=".8333" stop-color="#f4f4f4"/><stop offset=".8542" stop-color="#f7f7f7"/><stop offset=".875" stop-color="#f8f8f8"/><stop offset=".8958" stop-color="#f7f7f7"/><stop offset=".9167" stop-color="#f5f5f5"/><stop offset=".9375" stop-color="#f3f3f3"/><stop offset=".9583" stop-color="#f0f0f0"/><stop offset=".9792" stop-color="#ededed"/><stop offset="1" stop-color="#eaeaea"/></linearGradient><linearGradient id="r35" href="#r"><stop offset="0" stop-color="#ededed"/><stop offset=".0208" stop-color="#eeeeee"/><stop offset=".0417" stop-color="#eeeeee"/><stop offset=".0625" stop-color="#eeeeee"/><stop offset=".0833" stop-color="#eeeeee"/><stop offset=".1042" stop-color="#ededed"/><stop offset=".125" stop-color="#ececec"/><stop offset=".1458" stop-color="#ebebeb"/><stop offset=".1667" stop-color="#eaeaea"/><stop offset=".1875" stop-color="#e8e8e8"/><stop offset=".2083" stop-color="#e6e6e6"/><stop offset=".2292" stop-color="#e1e1e1"/><stop offset=".25" stop-color="#d9d9d9"/><stop offset=".2708" stop-color="#cccccc"/><stop offset=".2917" stop-color="#b9b9b9"/><stop offset=".3125" stop-color="#a3a3a3"/><stop offset=".3333" stop-color="#8e8e8e"/><stop offset=".3542" stop-color="#7d7d7d"/><stop offset=".375" stop-color="#757575"/><stop offset=".3958" stop-color="#717171"/><stop offset=".4167" stop-color="#6f6f6f"/><stop offset=".4375" stop-color="#6f6f6f"/><stop offset=".4583" stop-color="#6e6e6e"/><stop offset=".4792" stop-color="#6d6d6d"/><stop offset=".5" stop-color="#6c6c6c"/><stop offset=".5208" stop-color="#6c6c6c"/><stop offset=".5417" stop-color="#6e6e6e"/><stop offset=".5625" stop-color="#737373"/><stop offset=".5833" stop-color="#797979"/><stop offset=".6042" stop-color="#818181"/><stop offset=".625" stop-color="#898989"/><stop offset=".6458" stop-color="#939393"/><stop offset=".6667" stop-color="#9e9e9e"/><stop offset=".6875" stop-color="#ababab"/><stop offset=".7083" stop-color="#bababa"/><stop offset=".7292" stop-color="#c9c9c9"/><stop offset=".75" stop-color="#d6d6d6"/><stop offset=".7708" stop-color="#e2e2e2"/><stop offset=".7917" stop-color="#eaeaea"/><stop offset=".8125" stop-color="#f0f0f0"/><stop offset=".8333" stop-color="#f4f4f4"/><stop offset=".8542" stop-color="#f7f7f7"/><stop offset=".875" stop-color="#f9f9f9"/><stop offset=".8958" stop-color="#f9f9f9"/><stop offset=".9167" stop-color="#f7f7f7"/><stop offset=".9375" stop-color="#f4f4f4"/><stop offset=".9583" stop-color="#f2f2f2"/><stop offset=".9792" stop-color="#efefef"/><stop offset="1" stop-color="#ededed"/></linearGradient><linearGradient id="r36" href="#r"><stop offset="0" stop-color="#efefef"/><stop offset=".0208" stop-color="#f0f0f0"/><stop offset=".0417" stop-color="#f1f1f1"/><stop offset=".0625" stop-color="#f1f1f1"/><stop offset=".0833" stop-color="#f0f0f0"/><stop offset=".1042" stop-color="#f0f0f0"/><stop offset=".125" stop-color="#efefef"/><stop offset=".1458" stop-color="#efefef"/><stop offset=".1667" stop-color="#efefef"/><stop offset=".1875" stop-color="#eeeeee"/><stop offset=".2083" stop-color="#ececec"/><stop offset=".2292" stop-color="#e8e8e8"/><stop offset=".25" stop-color="#e0e0e0"/><stop offset=".2708" stop-color="#d5d5d5"/><stop offset=".2917" stop-color="#c5c5c5"/><stop offset=".3125" stop-color="#b3b3b3"/><stop offset=".3333" stop-color="#a0a0a0"/><stop offset=".3542" stop-color="#909090"/><stop offset=".375" stop-color="#848484"/><stop offset=".3958" stop-color="#7e7e7e"/><stop offset=".4167" stop-color="#7a7a7a"/><stop offset=".4375" stop-color="#787878"/><stop offset=".4583" stop-color="#777777"/><stop offset=".4792" stop-color="#767676"/><stop offset=".5" stop-color="#757575"/><stop offset=".5208" stop-color="#767676"/><stop offset=".5417" stop-color="#797979"/><stop offset=".5625" stop-color="#7c7c7c"/><stop offset=".5833" stop-color="#818181"/><stop offset=".6042" stop-color="#888888"/><stop offset=".625" stop-color="#909090"/><stop offset=".6458" stop-color="#999999"/><stop offset=".6667" stop-color="#a5a5a5"/><stop offset=".6875" stop-color="#b2b2b2"/><stop offset=".7083" stop-color="#c1c1c1"/><stop offset=".7292" stop-color="#cfcfcf"/><stop offset=".75" stop-color="#dbdbdb"/><stop offset=".7708" stop-color="#e4e4e4"/><stop offset=".7917" stop-color="#ebebeb"/><stop offset=".8125" stop-color="#f0f0f0"/><stop offset=".8333" stop-color="#f4f4f4"/><stop offset=".8542" stop-color="#f8f8f8"/><stop offset=".875" stop-color="#fafafa"/><stop offset=".8958" stop-color="#f9f9f9"/><stop offset=".9167" stop-color="#f8f8f8"/><stop offset=".9375" stop-color="#f5f5f5"/><stop offset=".9583" stop-color="#f3f3f3"/><stop offset=".9792" stop-color="#f1f1f1"/><stop offset="1" stop-color="#efefef"/></linearGradient><linearGradient id="r37" href="#r"><stop offset="0" stop-color="#f1f1f1"/><stop offset=".0208" stop-color="#f2f2f2"/><stop offset=".0417" stop-color="#f2f2f2"/><stop offset=".0625" stop-color="#f3f3f3"/><stop offset=".0833" stop-color="#f3f3f3"/><stop offset=".1042" stop-color="#f2f2f2"/><stop offset=".125" stop-color="#f3f3f3"/><stop offset=".1458" stop-color="#f3f3f3"/><stop offset=".1667" stop-color="#f3f3f3"/><stop offset=".1875" stop-color="#f3f3f3"/><stop offset=".2083" stop-color="#f1f1f1"/><stop offset=".2292" stop-color="#eeeeee"/><stop offset=".25" stop-color="#e7e7e7"/><stop offset=".2708" stop-color="#dddddd"/><stop offset=".2917" stop-color="#d0d0d0"/><stop offset=".3125" stop-color="#c1c1c1"/><stop offset=".3333" stop-color="#b2b2b2"/><stop offset=".3542" stop-color="#a2a2a2"/><stop offset=".375" stop-color="#959595"/><stop offset=".3958" stop-color="#8c8c8c"/><stop offset=".4167" stop-color="#868686"/><stop offset=".4375" stop-color="#828282"/><stop offset=".4583" stop-color="#808080"/><stop offset=".4792" stop-color="#7f7f7f"/><stop offset=".5" stop-color="#7f7f7f"/><stop offset=".5208" stop-color="#808080"/><stop offset=".5417" stop-color="#828282"/><stop offset=".5625" stop-color="#858585"/><stop offset=".5833" stop-color="#898989"/><stop offset=".6042" stop-color="#8f8f8f"/><stop offset=".625" stop-color="#969696"/><stop offset=".6458" stop-color="#a0a0a0"/><stop offset=".6667" stop-color="#acacac"/><stop offset=".6875" stop-color="#bababa"/><stop offset=".7083" stop-color="#c8c8c8"/><stop offset=".7292" stop-color="#d5d5d5"/><stop offset=".75" stop-color="#dfdfdf"/><stop offset=".7708" stop-color="#e7e7e7"/><stop offset=".7917" stop-color="#ededed"/><stop offset=".8125" stop-color="#f1f1f1"/><stop offset=".8333" stop-color="#f4f4f4"/><stop offset=".8542" stop-color="#f8f8f8"/><stop offset=".875" stop-color="#fafafa"/><stop offset=".8958" stop-color="#f9f9f9"/><stop offset=".9167" stop-color="#f8f8f8"/><stop offset=".9375" stop-color="#f6f6f6"/><stop offset=".9583" stop-color="#f5f5f5"/><stop offset=".9792" stop-color="#f3f3f3"/><stop offset="1" stop-color="#f1f1f1"/></linearGradient><linearGradient id="r38" href="#r"><stop offset="0" stop-color="#f2f2f2"/><stop offset=".0208" stop-color="#f3f3f3"/><stop offset=".0417" stop-color="#f4f4f4"/><stop offset=".0625" stop-color="#f4f4f4"/><stop offset=".0833" stop-color="#f5f5f5"/><stop offset=".1042" stop-color="#f5f5f5"/><stop offset=".125" stop-color="#f6f6f6"/><stop offset=".1458" stop-color="#f6f6f6"/><stop offset=".1667" stop-color="#f7f7f7"/><stop offset=".1875" stop-color="#f7f7f7"/><stop offset=".2083" stop-color="#f6f6f6"/><stop offset=".2292" stop-color="#f2f2f2"/><stop offset=".25" stop-color="#ededed"/><stop offset=".2708" stop-color="#e5e5e5"/><stop offset=".2917" stop-color="#dadada"/><stop offset=".3125" stop-color="#cecece"/><stop offset=".3333" stop-color="#c0c0c0"/><stop offset=".3542" stop-color="#b2b2b2"/><stop offset=".375" stop-color="#a5a5a5"/><stop offset=".3958" stop-color="#9b9b9b"/><stop offset=".4167" stop-color="#939393"/><stop offset=".4375" stop-color="#8e8e8e"/><stop offset=".4583" stop-color="#8b8b8b"/><stop offset=".4792" stop-color="#898989"/><stop offset=".5" stop-color="#888888"/><stop offset=".5208" stop-color="#898989"/><stop offset=".5417" stop-color="#8a8a8a"/><stop offset=".5625" stop-color="#8d8d8d"/><stop offset=".5833" stop-color="#919191"/><stop offset=".6042" stop-color="#969696"/><stop offset=".625" stop-color="#9e9e9e"/><stop offset=".6458" stop-color="#a9a9a9"/><stop offset=".6667" stop-color="#b6b6b6"/><stop offset=".6875" stop-color="#c3c3c3"/><stop offset=".7083" stop-color="#d0d0d0"/><stop offset=".7292" stop-color="#dbdbdb"/><stop offset=".75" stop-color="#e4e4e4"/><stop offset=".7708" stop-color="#eaeaea"/><stop offset=".7917" stop-color="#efefef"/><stop offset=".8125" stop-color="#f2f2f2"/><stop offset=".8333" stop-color="#f5f5f5"/><stop offset=".8542" stop-color="#f8f8f8"/><stop offset=".875" stop-color="#f9f9f9"/><stop offset=".8958" stop-color="#f9f9f9"/><stop offset=".9167" stop-color="#f8f8f8"/><stop offset=".9375" stop-color="#f7f7f7"/><stop offset=".9583" stop-color="#f5f5f5"/><stop offset=".9792" stop-color="#f4f4f4"/><stop offset="1" stop-color="#f2f2f2"/></linearGradient><linearGradient id="r39" href="#r"><stop offset="0" stop-color="#f3f3f3"/><stop offset=".0208" stop-color="#f4f4f4"/><stop offset=".0417" stop-color="#f5f5f5"/><stop offset=".0625" stop-color="#f6f6f6"/><stop offset=".0833" stop-color="#f7f7f7"/><stop offset=".1042" stop-color="#f8f8f8"/><stop offset=".125" stop-color="#f8f8f8"/><stop offset=".1458" stop-color="#f9f9f9"/><stop offset=".1667" stop-color="#fafafa"/><stop offset=".1875" stop-color="#fafafa"/><stop offset=".2083" stop-color="#f9f9f9"/><stop offset=".2292" stop-color="#f7f7f7"/><stop offset=".25" stop-color="#f2f2f2"/><stop offset=".2708" stop-color="#ececec"/><stop offset=".2917" stop-color="#e4e4e4"/><stop offset=".3125" stop-color="#d9d9d9"/><stop offset=".3333" stop-color="#cdcdcd"/><stop offset=".3542" stop-color="#c0c0c0"/><stop offset=".375" stop-color="#b4b4b4"/><stop offset=".3958" stop-color="#aaaaaa"/><stop offset=".4167" stop-color="#a1a1a1"/><stop offset=".4375" stop-color="#9b9b9b"/><stop offset=".4583" stop-color="#979797"/><stop offset=".4792" stop-color="#949494"/><stop offset=".5" stop-color="#939393"/><stop offset=".5208" stop-color="#929292"/><stop offset=".5417" stop-color="#949494"/><stop offset=".5625" stop-color="#969696"/><stop offset=".5833" stop-color="#9a9a9a"/><stop offset=".6042" stop-color="#a0a0a0"/><stop offset=".625" stop-color="#aaaaaa"/><stop offset=".6458" stop-color="#b6b6b6"/><stop offset=".6667" stop-color="#c2c2c2"/><stop offset=".6875" stop-color="#cdcdcd"/><stop offset=".7083" stop-color="#d7d7d7"/><stop offset=".7292" stop-color="#e0e0e0"/><stop offset=".75" stop-color="#e7e7e7"/><stop offset=".7708" stop-color="#ececec"/><stop offset=".7917" stop-color="#f0f0f0"/><stop offset=".8125" stop-color="#f3f3f3"/><stop offset=".8333" stop-color="#f6f6f6"/><stop offset=".8542" stop-color="#f7f7f7"/><stop offset=".875" stop-color="#f8f8f8"/><stop offset=".8958" stop-color="#f9f9f9"/><stop offset=".9167" stop-color="#f8f8f8"/><stop offset=".9375" stop-color="#f7f7f7"/><stop offset=".9583" stop-color="#f6f6f6"/><stop offset=".9792" stop-color="#f4f4f4"/><stop offset="1" stop-color="#f3f3f3"/></linearGradient><linearGradient id="r40" href="#r"><stop offset="0" stop-color="#f5f5f5"/><stop offset=".0208" stop-color="#f6f6f6"/><stop offset=".0417" stop-color="#f7f7f7"/><stop offset=".0625" stop-color="#f8f8f8"/><stop offset=".0833" stop-color="#f9f9f9"/><stop offset=".1042" stop-color="#fafafa"/><stop offset=".125" stop-color="#fafafa"/><stop offset=".1458" stop-color="#fbfbfb"/><stop offset=".1667" stop-color="#fcfcfc"/><stop offset=".1875" stop-color="#fcfcfc"/><stop offset=".2083" stop-color="#fcfcfc"/><stop offset=".2292" stop-color="#fafafa"/><stop offset=".25" stop-color="#f7f7f7"/><stop offset=".2708" stop-color="#f2f2f2"/><stop offset=".2917" stop-color="#ececec"/><stop offset=".3125" stop-color="#e3e3e3"/><stop offset=".3333" stop-color="#d9d9d9"/><stop offset=".3542" stop-color="#cecece"/><stop offset=".375" stop-color="#c2c2c2"/><stop offset=".3958" stop-color="#b8b8b8"/><stop offset=".4167" stop-color="#afafaf"/><stop offset=".4375" stop-color="#a8a8a8"/><stop offset=".4583" stop-color="#a4a4a4"/><stop offset=".4792" stop-color="#a1a1a1"/><stop offset=".5" stop-color="#9f9f9f"/><stop offset=".5208" stop-color="#9f9f9f"/><stop offset=".5417" stop-color="#a0a0a0"/><stop offset=".5625" stop-color="#a3a3a3"/><stop offset=".5833" stop-color="#a7a7a7"/><stop offset=".6042" stop-color="#aeaeae"/><stop offset=".625" stop-color="#bababa"/><stop offset=".6458" stop-color="#c6c6c6"/><stop offset=".6667" stop-color="#cecece"/><stop offset=".6875" stop-color="#d5d5d5"/><stop offset=".7083" stop-color="#dcdcdc"/><stop offset=".7292" stop-color="#e3e3e3"/><stop offset=".75" stop-color="#e9e9e9"/><stop offset=".7708" stop-color="#ededed"/><stop offset=".7917" stop-color="#f1f1f1"/><stop offset=".8125" stop-color="#f3f3f3"/><stop offset=".8333" stop-color="#f6f6f6"/><stop offset=".8542" stop-color="#f7f7f7"/><stop offset=".875" stop-color="#f8f8f8"/><stop offset=".8958" stop-color="#f8f8f8"/><stop offset=".9167" stop-color="#f8f8f8"/><stop offset=".9375" stop-color="#f7f7f7"/><stop offset=".9583" stop-color="#f6f6f6"/><stop offset=".9792" stop-color="#f4f4f4"/><stop offset="1" stop-color="#f3f3f3"/></linearGradient><linearGradient id="r41" href="#r"><stop offset="0" stop-color="#f6f6f6"/><stop offset=".0208" stop-color="#f7f7f7"/><stop offset=".0417" stop-color="#f8f8f8"/><stop offset=".0625" stop-color="#f9f9f9"/><stop offset=".0833" stop-color="#fafafa"/><stop offset=".1042" stop-color="#fbfbfb"/><stop offset=".125" stop-color="#fbfbfb"/><stop offset=".1458" stop-color="#fcfcfc"/><stop offset=".1667" stop-color="#fdfdfd"/><stop offset=".1875" stop-color="#fefefe"/><stop offset=".2083" stop-color="#fefefe"/><stop offset=".2292" stop-color="#fdfdfd"/><stop offset=".25" stop-color="#fafafa"/><stop offset=".2708" stop-color="#f7f7f7"/><stop offset=".2917" stop-color="#f2f2f2"/><stop offset=".3125" stop-color="#ebebeb"/><stop offset=".3333" stop-color="#e3e3e3"/><stop offset=".3542" stop-color="#dadada"/><stop offset=".375" stop-color="#d0d0d0"/><stop offset=".3958" stop-color="#c6c6c6"/><stop offset=".4167" stop-color="#bdbdbd"/><stop offset=".4375" stop-color="#b6b6b6"/><stop offset=".4583" stop-color="#b1b1b1"/><stop offset=".4792" stop-color="#aeaeae"/><stop offset=".5" stop-color="#acacac"/><stop offset=".5208" stop-color="#acacac"/><stop offset=".5417" stop-color="#aeaeae"/><stop offset=".5625" stop-color="#b2b2b2"/><stop offset=".5833" stop-color="#b6b6b6"/><stop offset=".6042" stop-color="#bebebe"/><stop offset=".625" stop-color="#c8c8c8"/><stop offset=".6458" stop-color="#d1d1d1"/><stop offset=".6667" stop-color="#d6d6d6"/><stop offset=".6875" stop-color="#dadada"/><stop offset=".7083" stop-color="#e0e0e0"/><stop offset=".7292" stop-color="#e5e5e5"/><stop offset=".75" stop-color="#eaeaea"/><stop offset=".7708" stop-color="#eeeeee"/><stop offset=".7917" stop-color="#f1f1f1"/><stop offset=".8125" stop-color="#f3f3f3"/><stop offset=".8333" stop-color="#f5f5f5"/><stop offset=".8542" stop-color="#f7f7f7"/><stop offset=".875" stop-color="#f7f7f7"/><stop offset=".8958" stop-color="#f7f7f7"/><stop offset=".9167" stop-color="#f7f7f7"/><stop offset=".9375" stop-color="#f6f6f6"/><stop offset=".9583" stop-color="#f5f5f5"/><stop offset=".9792" stop-color="#f4f4f4"/><stop offset="1" stop-color="#f3f3f3"/></linearGradient><linearGradient id="r42" href="#r"><stop offset="0" stop-color="#f6f6f6"/><stop offset=".0208" stop-color="#f7f7f7"/><stop offset=".0417" stop-color="#f8f8f8"/><stop offset=".0625" stop-color="#f9f9f9"/><stop offset=".0833" stop-color="#fafafa"/><stop offset=".1042" stop-color="#fbfbfb"/><stop offset=".125" stop-color="#fcfcfc"/><stop offset=".1458" stop-color="#fcfcfc"/><stop offset=".1667" stop-color="#fefefe"/><stop offset=".1875" stop-color="#ffffff"/><stop offset=".2083" stop-color="#ffffff"/><stop offset=".2292" stop-color="#fefefe"/><stop offset=".25" stop-color="#fcfcfc"/><stop offset=".2708" stop-color="#f9f9f9"/><stop offset=".2917" stop-color="#f6f6f6"/><stop offset=".3125" stop-color="#f1f1f1"/><stop offset=".3333" stop-color="#ebebeb"/><stop offset=".3542" stop-color="#e4e4e4"/><stop offset=".375" stop-color="#dbdbdb"/><stop offset=".3958" stop-color="#d2d2d2"/><stop offset=".4167" stop-color="#cacaca"/><stop offset=".4375" stop-color="#c3c3c3"/><stop offset=".4583" stop-color="#bebebe"/><stop offset=".4792" stop-color="#bbbbbb"/><stop offset=".5" stop-color="#bababa"/><stop offset=".5208" stop-color="#bbbbbb"/><stop offset=".5417" stop-color="#bdbdbd"/><stop offset=".5625" stop-color="#c1c1c1"/><stop offset=".5833" stop-color="#c5c5c5"/><stop offset=".6042" stop-color="#cacaca"/><stop offset=".625" stop-color="#d1d1d1"/><stop offset=".6458" stop-color="#d6d6d6"/><stop offset=".6667" stop-color="#d9d9d9"/><stop offset=".6875" stop-color="#dddddd"/><stop offset=".7083" stop-color="#e2e2e2"/><stop offset=".7292" stop-color="#e7e7e7"/><stop offset=".75" stop-color="#ebebeb"/><stop offset=".7708" stop-color="#eeeeee"/><stop offset=".7917" stop-color="#f1f1f1"/><stop offset=".8125" stop-color="#f3f3f3"/><stop offset=".8333" stop-color="#f5f5f5"/><stop offset=".8542" stop-color="#f6f6f6"/><stop offset=".875" stop-color="#f7f7f7"/><stop offset=".8958" stop-color="#f7f7f7"/><stop offset=".9167" stop-color="#f6f6f6"/><stop offset=".9375" stop-color="#f6f6f6"/><stop offset=".9583" stop-color="#f5f5f5"/><stop offset=".9792" stop-color="#f4f4f4"/><stop offset="1" stop-color="#f3f3f3"/></linearGradient><linearGradient id="r43" href="#r"><stop offset="0" stop-color="#f7f7f7"/><stop offset=".0208" stop-color="#f8f8f8"/><stop offset=".0417" stop-color="#f9f9f9"/><stop offset=".0625" stop-color="#f9f9f9"/><stop offset=".0833" stop-color="#fafafa"/><stop offset=".1042" stop-color="#fbfbfb"/><stop offset=".125" stop-color="#fbfbfb"/><stop offset=".1458" stop-color="#fcfcfc"/><stop offset=".1667" stop-color="#fdfdfd"/><stop offset=".1875" stop-color="#fefefe"/><stop offset=".2083" stop-color="#ffffff"/><stop offset=".2292" stop-color="#fefefe"/><stop offset=".25" stop-color="#fcfcfc"/><stop offset=".2708" stop-color="#fafafa"/><stop offset=".2917" stop-color="#f8f8f8"/><stop offset=".3125" stop-color="#f4f4f4"/><stop offset=".3333" stop-color="#f0f0f0"/><stop offset=".3542" stop-color="#ebebeb"/><stop offset=".375" stop-color="#e4e4e4"/><stop offset=".3958" stop-color="#dcdcdc"/><stop offset=".4167" stop-color="#d5d5d5"/><stop offset=".4375" stop-color="#cfcfcf"/><stop offset=".4583" stop-color="#cacaca"/><stop offset=".4792" stop-color="#c8c8c8"/><stop offset=".5" stop-color="#c7c7c7"/><stop offset=".5208" stop-color="#c8c8c8"/><stop offset=".5417" stop-color="#cbcbcb"/><stop offset=".5625" stop-color="#cecece"/><stop offset=".5833" stop-color="#d1d1d1"/><stop offset=".6042" stop-color="#d4d4d4"/><stop offset=".625" stop-color="#d8d8d8"/><stop offset=".6458" stop-color="#dbdbdb"/><stop offset=".6667" stop-color="#dddddd"/><stop offset=".6875" stop-color="#e0e0e0"/><stop offset=".7083" stop-color="#e5e5e5"/><stop offset=".7292" stop-color="#e9e9e9"/><stop offset=".75" stop-color="#ececec"/><stop offset=".7708" stop-color="#efefef"/><stop offset=".7917" stop-color="#f1f1f1"/><stop offset=".8125" stop-color="#f3f3f3"/><stop offset=".8333" stop-color="#f4f4f4"/><stop offset=".8542" stop-color="#f5f5f5"/><stop offset=".875" stop-color="#f6f6f6"/><stop offset=".8958" stop-color="#f6f6f6"/><stop offset=".9167" stop-color="#f6f6f6"/><stop offset=".9375" stop-color="#f5f5f5"/><stop offset=".9583" stop-color="#f4f4f4"/><stop offset=".9792" stop-color="#f4f4f4"/><stop offset="1" stop-color="#f3f3f3"/></linearGradient><linearGradient id="r44" href="#r"><stop offset="0" stop-color="#f7f7f7"/><stop offset=".0208" stop-color="#f7f7f7"/><stop offset=".0417" stop-color="#f8f8f8"/><stop offset=".0625" stop-color="#f9f9f9"/><stop offset=".0833" stop-color="#fafafa"/><stop offset=".1042" stop-color="#fafafa"/><stop offset=".125" stop-color="#fbfbfb"/><stop offset=".1458" stop-color="#fbfbfb"/><stop offset=".1667" stop-color="#fcfcfc"/><stop offset=".1875" stop-color="#fdfdfd"/><stop offset=".2083" stop-color="#fdfdfd"/><stop offset=".2292" stop-color="#fdfdfd"/><stop offset=".25" stop-color="#fcfcfc"/><stop offset=".2708" stop-color="#fafafa"/><stop offset=".2917" stop-color="#f8f8f8"/><stop offset=".3125" stop-color="#f6f6f6"/><stop offset=".3333" stop-color="#f2f2f2"/><stop offset=".3542" stop-color="#efefef"/><stop offset=".375" stop-color="#eaeaea"/><stop offset=".3958" stop-color="#e4e4e4"/><stop offset=".4167" stop-color="#dfdfdf"/><stop offset=".4375" stop-color="#dadada"/><stop offset=".4583" stop-color="#d6d6d6"/><stop offset=".4792" stop-color="#d4d4d4"/><stop offset=".5" stop-color="#d4d4d4"/><stop offset=".5208" stop-color="#d4d4d4"/><stop offset=".5417" stop-color="#d6d6d6"/><stop offset=".5625" stop-color="#d8d8d8"/><stop offset=".5833" stop-color="#dadada"/><stop offset=".6042" stop-color="#dddddd"/><stop offset=".625" stop-color="#dfdfdf"/><stop offset=".6458" stop-color="#e1e1e1"/><stop offset=".6667" stop-color="#e3e3e3"/><stop offset=".6875" stop-color="#e5e5e5"/><stop offset=".7083" stop-color="#e8e8e8"/><stop offset=".7292" stop-color="#ebebeb"/><stop offset=".75" stop-color="#ededed"/><stop offset=".7708" stop-color="#f0f0f0"/><stop offset=".7917" stop-color="#f1f1f1"/><stop offset=".8125" stop-color="#f3f3f3"/><stop offset=".8333" stop-color="#f4f4f4"/><stop offset=".8542" stop-color="#f5f5f5"/><stop offset=".875" stop-color="#f5f5f5"/><stop offset=".8958" stop-color="#f5f5f5"/><stop offset=".9167" stop-color="#f5f5f5"/><stop offset=".9375" stop-color="#f5f5f5"/><stop offset=".9583" stop-color="#f4f4f4"/><stop offset=".9792" stop-color="#f4f4f4"/><stop offset="1" stop-color="#f3f3f3"/></linearGradient><linearGradient id="r45" href="#r"><stop offset="0" stop-color="#f6f6f6"/><stop offset=".0208" stop-color="#f7f7f7"/><stop offset=".0417" stop-color="#f8f8f8"/><stop offset=".0625" stop-color="#f8f8f8"/><stop offset=".0833" stop-color="#f9f9f9"/><stop offset=".1042" stop-color="#fafafa"/><stop offset=".125" stop-color="#fafafa"/><stop offset=".1458" stop-color="#fafafa"/><stop offset=".1667" stop-color="#fbfbfb"/><stop offset=".1875" stop-color="#fcfcfc"/><stop offset=".2083" stop-color="#fcfcfc"/><stop offset=".2292" stop-color="#fcfcfc"/><stop offset=".25" stop-color="#fbfbfb"/><stop offset=".2708" stop-color="#fafafa"/><stop offset=".2917" stop-color="#f8f8f8"/><stop offset=".3125" stop-color="#f6f6f6"/><stop offset=".3333" stop-color="#f4f4f4"/><stop offset=".3542" stop-color="#f1f1f1"/><stop offset=".375" stop-color="#ededed"/><stop offset=".3958" stop-color="#eaeaea"/><stop offset=".4167" stop-color="#e6e6e6"/><stop offset=".4375" stop-color="#e3e3e3"/><stop offset=".4583" stop-color="#e1e1e1"/><stop offset=".4792" stop-color="#dfdfdf"/><stop offset=".5" stop-color="#dedede"/><stop offset=".5208" stop-color="#dfdfdf"/><stop offset=".5417" stop-color="#e0e0e0"/><stop offset=".5625" stop-color="#e1e1e1"/><stop offset=".5833" stop-color="#e3e3e3"/><stop offset=".6042" stop-color="#e4e4e4"/><stop offset=".625" stop-color="#e6e6e6"/><stop offset=".6458" stop-color="#e7e7e7"/><stop offset=".6667" stop-color="#e9e9e9"/><stop offset=".6875" stop-color="#eaeaea"/><stop offset=".7083" stop-color="#ececec"/><stop offset=".7292" stop-color="#ededed"/><stop offset=".75" stop-color="#efefef"/><stop offset=".7708" stop-color="#f1f1f1"/><stop offset=".7917" stop-color="#f2f2f2"/><stop offset=".8125" stop-color="#f3f3f3"/><stop offset=".8333" stop-color="#f4f4f4"/><stop offset=".8542" stop-color="#f5f5f5"/><stop offset=".875" stop-color="#f5f5f5"/><stop offset=".8958" stop-color="#f5f5f5"/><stop offset=".9167" stop-color="#f5f5f5"/><stop offset=".9375" stop-color="#f4f4f4"/><stop offset=".9583" stop-color="#f4f4f4"/><stop offset=".9792" stop-color="#f4f4f4"/><stop offset="1" stop-color="#f3f3f3"/></linearGradient><linearGradient id="r46" href="#r"><stop offset="0" stop-color="#f6f6f6"/><stop offset=".0208" stop-color="#f6f6f6"/><stop offset=".0417" stop-color="#f7f7f7"/><stop offset=".0625" stop-color="#f7f7f7"/><stop offset=".0833" stop-color="#f8f8f8"/><stop offset=".1042" stop-color="#f9f9f9"/><stop offset=".125" stop-color="#f9f9f9"/><stop offset=".1458" stop-color="#fafafa"/><stop offset=".1667" stop-color="#fafafa"/><stop offset=".1875" stop-color="#fafafa"/><stop offset=".2083" stop-color="#fafafa"/><stop offset=".2292" stop-color="#fafafa"/><stop offset=".25" stop-color="#fafafa"/><stop offset=".2708" stop-color="#f9f9f9"/><stop offset=".2917" stop-color="#f8f8f8"/><stop offset=".3125" stop-color="#f6f6f6"/><stop offset=".3333" stop-color="#f4f4f4"/><stop offset=".3542" stop-color="#f2f2f2"/><stop offset=".375" stop-color="#f0f0f0"/><stop offset=".3958" stop-color="#ededed"/><stop offset=".4167" stop-color="#ebebeb"/><stop offset=".4375" stop-color="#e9e9e9"/><stop offset=".4583" stop-color="#e8e8e8"/><stop offset=".4792" stop-color="#e7e7e7"/><stop offset=".5" stop-color="#e7e7e7"/><stop offset=".5208" stop-color="#e7e7e7"/><stop offset=".5417" stop-color="#e8e8e8"/><stop offset=".5625" stop-color="#e9e9e9"/><stop offset=".5833" stop-color="#eaeaea"/><stop offset=".6042" stop-color="#eaeaea"/><stop offset=".625" stop-color="#ebebeb"/><stop offset=".6458" stop-color="#ececec"/><stop offset=".6667" stop-color="#ededed"/><stop offset=".6875" stop-color="#eeeeee"/><stop offset=".7083" stop-color="#efefef"/><stop offset=".7292" stop-color="#f0f0f0"/><stop offset=".75" stop-color="#f1f1f1"/><stop offset=".7708" stop-color="#f2f2f2"/><stop offset=".7917" stop-color="#f3f3f3"/><stop offset=".8125" stop-color="#f4f4f4"/><stop offset=".8333" stop-color="#f5f5f5"/><stop offset=".8542" stop-color="#f5f5f5"/><stop offset=".875" stop-color="#f5f5f5"/><stop offset=".8958" stop-color="#f5f5f5"/><stop offset=".9167" stop-color="#f5f5f5"/><stop offset=".9375" stop-color="#f5f5f5"/><stop offset=".9583" stop-color="#f4f4f4"/><stop offset=".9792" stop-color="#f4f4f4"/><stop offset="1" stop-color="#f3f3f3"/></linearGradient><linearGradient id="r47" href="#r"><stop offset="0" stop-color="#f5f5f5"/><stop offset=".0208" stop-color="#f5f5f5"/><stop offset=".0417" stop-color="#f6f6f6"/><stop offset=".0625" stop-color="#f6f6f6"/><stop offset=".0833" stop-color="#f7f7f7"/><stop offset=".1042" stop-color="#f8f8f8"/><stop offset=".125" stop-color="#f8f8f8"/><stop offset=".1458" stop-color="#f9f9f9"/><stop offset=".1667" stop-color="#f9f9f9"/><stop offset=".1875" stop-color="#f9f9f9"/><stop offset=".2083" stop-color="#f9f9f9"/><stop offset=".2292" stop-color="#f9f9f9"/><stop offset=".25" stop-color="#f8f8f8"/><stop offset=".2708" stop-color="#f8f8f8"/><stop offset=".2917" stop-color="#f7f7f7"/><stop offset=".3125" stop-color="#f6f6f6"/><stop offset=".3333" stop-color="#f4f4f4"/><stop offset=".3542" stop-color="#f3f3f3"/><stop offset=".375" stop-color="#f1f1f1"/><stop offset=".3958" stop-color="#f0f0f0"/><stop offset=".4167" stop-color="#eeeeee"/><stop offset=".4375" stop-color="#ededed"/><stop offset=".4583" stop-color="#ececec"/><stop offset=".4792" stop-color="#ececec"/><stop offset=".5" stop-color="#ededed"/><stop offset=".5208" stop-color="#eeeeee"/><stop offset=".5417" stop-color="#efefef"/><stop offset=".5625" stop-color="#f0f0f0"/><stop offset=".5833" stop-color="#f0f0f0"/><stop offset=".6042" stop-color="#f0f0f0"/><stop offset=".625" stop-color="#f0f0f0"/><stop offset=".6458" stop-color="#f0f0f0"/><stop offset=".6667" stop-color="#f1f1f1"/><stop offset=".6875" stop-color="#f2f2f2"/><stop offset=".7083" stop-color="#f2f2f2"/><stop offset=".7292" stop-color="#f3f3f3"/><stop offset=".75" stop-color="#f3f3f3"/><stop offset=".7708" stop-color="#f4f4f4"/><stop offset=".7917" stop-color="#f4f4f4"/><stop offset=".8125" stop-color="#f5f5f5"/><stop offset=".8333" stop-color="#f5f5f5"/><stop offset=".8542" stop-color="#f5f5f5"/><stop offset=".875" stop-color="#f5f5f5"/><stop offset=".8958" stop-color="#f5f5f5"/><stop offset=".9167" stop-color="#f5f5f5"/><stop offset=".9375" stop-color="#f5f5f5"/><stop offset=".9583" stop-color="#f5f5f5"/><stop offset=".9792" stop-color="#f4f4f4"/><stop offset="1" stop-color="#f4f4f4"/></linearGradient><linearGradient id="r48" href="#r"><stop offset="0" stop-color="#f4f4f4"/><stop offset=".0208" stop-color="#f4f4f4"/><stop offset=".0417" stop-color="#f5f5f5"/><stop offset=".0625" stop-color="#f5f5f5"/><stop offset=".0833" stop-color="#f6f6f6"/><stop offset=".1042" stop-color="#f7f7f7"/><stop offset=".125" stop-color="#f7f7f7"/><stop offset=".1458" stop-color="#f7f7f7"/><stop offset=".1667" stop-color="#f8f8f8"/><stop offset=".1875" stop-color="#f7f7f7"/><stop offset=".2083" stop-color="#f7f7f7"/><stop offset=".2292" stop-color="#f8f8f8"/><stop offset=".25" stop-color="#f7f7f7"/><stop offset=".2708" stop-color="#f7f7f7"/><stop offset=".2917" stop-color="#f6f6f6"/><stop offset=".3125" stop-color="#f5f5f5"/><stop offset=".3333" stop-color="#f4f4f4"/><stop offset=".3542" stop-color="#f3f3f3"/><stop offset=".375" stop-color="#f2f2f2"/><stop offset=".3958" stop-color="#f2f2f2"/><stop offset=".4167" stop-color="#f1f1f1"/><stop offset=".4375" stop-color="#f0f0f0"/><stop offset=".4583" stop-color="#f0f0f0"/><stop offset=".4792" stop-color="#f0f0f0"/><stop offset=".5" stop-color="#f2f2f2"/><stop offset=".5208" stop-color="#f3f3f3"/><stop offset=".5417" stop-color="#f4f4f4"/><stop offset=".5625" stop-color="#f5f5f5"/><stop offset=".5833" stop-color="#f5f5f5"/><stop offset=".6042" stop-color="#f4f4f4"/><stop offset=".625" stop-color="#f3f3f3"/><stop offset=".6458" stop-color="#f4f4f4"/><stop offset=".6667" stop-color="#f4f4f4"/><stop offset=".6875" stop-color="#f4f4f4"/><stop offset=".7083" stop-color="#f5f5f5"/><stop offset=".7292" stop-color="#f5f5f5"/><stop offset=".75" stop-color="#f5f5f5"/><stop offset=".7708" stop-color="#f5f5f5"/><stop offset=".7917" stop-color="#f6f6f6"/><stop offset=".8125" stop-color="#f6f6f6"/><stop offset=".8333" stop-color="#f6f6f6"/><stop offset=".8542" stop-color="#f6f6f6"/><stop offset=".875" stop-color="#f6f6f6"/><stop offset=".8958" stop-color="#f6f6f6"/><stop offset=".9167" stop-color="#f6f6f6"/><stop offset=".9375" stop-color="#f6f6f6"/><stop offset=".9583" stop-color="#f5f5f5"/><stop offset=".9792" stop-color="#f5f5f5"/><stop offset="1" stop-color="#f5f5f5"/></linearGradient><linearGradient id="r49" href="#r"><stop offset="0" stop-color="#f4f4f4"/><stop offset=".0208" stop-color="#f4f4f4"/><stop offset=".0417" stop-color="#f5f5f5"/><stop offset=".0625" stop-color="#f5f5f5"/><stop offset=".0833" stop-color="#f6f6f6"/><stop offset=".1042" stop-color="#f7f7f7"/><stop offset=".125" stop-color="#f7f7f7"/><stop offset=".1458" stop-color="#f7f7f7"/><stop offset=".1667" stop-color="#f8f8f8"/><stop offset=".1875" stop-color="#f7f7f7"/><stop offset=".2083" stop-color="#f7f7f7"/><stop offset=".2292" stop-color="#f8f8f8"/><stop offset=".25" stop-color="#f7f7f7"/><stop offset=".2708" stop-color="#f7f7f7"/><stop offset=".2917" stop-color="#f6f6f6"/><stop offset=".3125" stop-color="#f5f5f5"/><stop offset=".3333" stop-color="#f4f4f4"/><stop offset=".3542" stop-color="#f3f3f3"/><stop offset=".375" stop-color="#f2f2f2"/><stop offset=".3958" stop-color="#f2f2f2"/><stop offset=".4167" stop-color="#f1f1f1"/><stop offset=".4375" stop-color="#f0f0f0"/><stop offset=".4583" stop-color="#f0f0f0"/><stop offset=".4792" stop-color="#f0f0f0"/><stop offset=".5" stop-color="#f2f2f2"/><stop offset=".5208" stop-color="#f3f3f3"/><stop offset=".5417" stop-color="#f4f4f4"/><stop offset=".5625" stop-color="#f5f5f5"/><stop offset=".5833" stop-color="#f5f5f5"/><stop offset=".6042" stop-color="#f4f4f4"/><stop offset=".625" stop-color="#f3f3f3"/><stop offset=".6458" stop-color="#f4f4f4"/><stop offset=".6667" stop-color="#f4f4f4"/><stop offset=".6875" stop-color="#f4f4f4"/><stop offset=".7083" stop-color="#f5f5f5"/><stop offset=".7292" stop-color="#f5f5f5"/><stop offset=".75" stop-color="#f5f5f5"/><stop offset=".7708" stop-color="#f5f5f5"/><stop offset=".7917" stop-color="#f6f6f6"/><stop offset=".8125" stop-color="#f6f6f6"/><stop offset=".8333" stop-color="#f6f6f6"/><stop offset=".8542" stop-color="#f6f6f6"/><stop offset=".875" stop-color="#f6f6f6"/><stop offset=".8958" stop-color="#f6f6f6"/><stop offset=".9167" stop-color="#f6f6f6"/><stop offset=".9375" stop-color="#f6f6f6"/><stop offset=".9583" stop-color="#f5f5f5"/><stop offset=".9792" stop-color="#f5f5f5"/><stop offset="1" stop-color="#f5f5f5"/></linearGradient><g id="rF"><rect x="-.06" y="-.0208" width="1.12" height=".0417" fill="url(#r0)"/><rect x="-.06" y="0" width="1.12" height=".0417" fill="url(#r1)"/><rect x="-.06" y=".0208" width="1.12" height=".0417" fill="url(#r2)"/><rect x="-.06" y=".0417" width="1.12" height=".0417" fill="url(#r3)"/><rect x="-.06" y=".0625" width="1.12" height=".0417" fill="url(#r4)"/><rect x="-.06" y=".0833" width="1.12" height=".0417" fill="url(#r5)"/><rect x="-.06" y=".1042" width="1.12" height=".0417" fill="url(#r6)"/><rect x="-.06" y=".125" width="1.12" height=".0417" fill="url(#r7)"/><rect x="-.06" y=".1458" width="1.12" height=".0417" fill="url(#r8)"/><rect x="-.06" y=".1667" width="1.12" height=".0417" fill="url(#r9)"/><rect x="-.06" y=".1875" width="1.12" height=".0417" fill="url(#r10)"/><rect x="-.06" y=".2083" width="1.12" height=".0417" fill="url(#r11)"/><rect x="-.06" y=".2292" width="1.12" height=".0417" fill="url(#r12)"/><rect x="-.06" y=".25" width="1.12" height=".0417" fill="url(#r13)"/><rect x="-.06" y=".2708" width="1.12" height=".0417" fill="url(#r14)"/><rect x="-.06" y=".2917" width="1.12" height=".0417" fill="url(#r15)"/><rect x="-.06" y=".3125" width="1.12" height=".0417" fill="url(#r16)"/><rect x="-.06" y=".3333" width="1.12" height=".0417" fill="url(#r17)"/><rect x="-.06" y=".3542" width="1.12" height=".0417" fill="url(#r18)"/><rect x="-.06" y=".375" width="1.12" height=".0417" fill="url(#r19)"/><rect x="-.06" y=".3958" width="1.12" height=".0417" fill="url(#r20)"/><rect x="-.06" y=".4167" width="1.12" height=".0417" fill="url(#r21)"/><rect x="-.06" y=".4375" width="1.12" height=".0417" fill="url(#r22)"/><rect x="-.06" y=".4583" width="1.12" height=".0417" fill="url(#r23)"/><rect x="-.06" y=".4792" width="1.12" height=".0417" fill="url(#r24)"/><rect x="-.06" y=".5" width="1.12" height=".0417" fill="url(#r25)"/><rect x="-.06" y=".5208" width="1.12" height=".0417" fill="url(#r26)"/><rect x="-.06" y=".5417" width="1.12" height=".0417" fill="url(#r27)"/><rect x="-.06" y=".5625" width="1.12" height=".0417" fill="url(#r28)"/><rect x="-.06" y=".5833" width="1.12" height=".0417" fill="url(#r29)"/><rect x="-.06" y=".6042" width="1.12" height=".0417" fill="url(#r30)"/><rect x="-.06" y=".625" width="1.12" height=".0417" fill="url(#r31)"/><rect x="-.06" y=".6458" width="1.12" height=".0417" fill="url(#r32)"/><rect x="-.06" y=".6667" width="1.12" height=".0417" fill="url(#r33)"/><rect x="-.06" y=".6875" width="1.12" height=".0417" fill="url(#r34)"/><rect x="-.06" y=".7083" width="1.12" height=".0417" fill="url(#r35)"/><rect x="-.06" y=".7292" width="1.12" height=".0417" fill="url(#r36)"/><rect x="-.06" y=".75" width="1.12" height=".0417" fill="url(#r37)"/><rect x="-.06" y=".7708" width="1.12" height=".0417" fill="url(#r38)"/><rect x="-.06" y=".7917" width="1.12" height=".0417" fill="url(#r39)"/><rect x="-.06" y=".8125" width="1.12" height=".0417" fill="url(#r40)"/><rect x="-.06" y=".8333" width="1.12" height=".0417" fill="url(#r41)"/><rect x="-.06" y=".8542" width="1.12" height=".0417" fill="url(#r42)"/><rect x="-.06" y=".875" width="1.12" height=".0417" fill="url(#r43)"/><rect x="-.06" y=".8958" width="1.12" height=".0417" fill="url(#r44)"/><rect x="-.06" y=".9167" width="1.12" height=".0417" fill="url(#r45)"/><rect x="-.06" y=".9375" width="1.12" height=".0417" fill="url(#r46)"/><rect x="-.06" y=".9583" width="1.12" height=".0417" fill="url(#r47)"/><rect x="-.06" y=".9792" width="1.12" height=".0417" fill="url(#r48)"/><rect x="-.06" y="1" width="1.12" height=".0208" fill="url(#r49)"/></g><filter id="fa" color-interpolation-filters="sRGB"><feGaussianBlur in="SourceGraphic" stdDeviation="2 7.9" result="g"/><feTurbulence type="fractalNoise" baseFrequency=".5" numOctaves="1" seed="2"/><feColorMatrix values="1 0 0 0 0 1 0 0 0 0 1 0 0 0 0 0 0 0 0 1" result="n"/><feComposite in="g" in2="n" operator="arithmetic" k1="0" k2="1" k3="0.03" k4="-0.01"/><feComponentTransfer><feFuncR type="table" tableValues="0 0 0 0 0 0 0 0 0 0 0 0 0 0 0 0 0 0 0 0 0 0 0 0 0 0 0 0 0 0 0 0 0 0 0 0 .032 .065 .097 .129 .161 .194 .226 .258 .29 .323 .355 .387 .419 .452 .484 .516 .548 .581 .613 .645 .677 .71 .742 .774 .806 .839 .871 .903 .935 .968 1 1 1 1 1 1 1 1 1 1 1 1 1 1 1 1 1 1 1 1 1 1 1 1 .955 .909 .864 .818 .773 .727 .682 .636 .591 .545 .5"/><feFuncG type="table" tableValues="0 0 0 0 0 0 0 0 0 0 0 0 0 .02 .06 .1 .14 .18 .22 .26 .3 .34 .38 .42 .46 .5 .54 .58 .62 .66 .7 .74 .78 .82 .86 .9 .94 .98 1 1 1 1 1 1 1 1 1 1 1 1 1 1 1 1 1 1 1 1 1 1 1 1 1 1 1 .963 .926 .889 .852 .815 .778 .741 .704 .667 .63 .593 .556 .519 .481 .444 .407 .37 .333 .296 .259 .222 .185 .148 .111 .074 .037 0 0 0 0 0 0 0 0 0 0"/><feFuncB type="table" tableValues=".5 .545 .591 .636 .682 .727 .773 .818 .864 .909 .955 1 1 1 1 1 1 1 1 1 1 1 1 1 1 1 1 1 1 1 1 1 1 1 1 .968 .935 .903 .871 .839 .806 .774 .742 .71 .677 .645 .613 .581 .548 .516 .484 .452 .419 .387 .355 .323 .29 .258 .226 .194 .161 .129 .097 .065 .032 0 0 0 0 0 0 0 0 0 0 0 0 0 0 0 0 0 0 0 0 0 0 0 0 0 0 0 0 0 0 0 0 0 0 0 0"/></feComponentTransfer><feGaussianBlur stdDeviation=".9"/></filter><filter id="fb" color-interpolation-filters="sRGB"><feGaussianBlur in="SourceGraphic" stdDeviation="2 7.9" result="g"/><feComponentTransfer result="g"><feFuncR type="linear" slope="0.62" intercept="0.16"/><feFuncG type="linear" slope="0.62" intercept="0.16"/><feFuncB type="linear" slope="0.62" intercept="0.16"/></feComponentTransfer><feTurbulence type="fractalNoise" baseFrequency=".47" numOctaves="2" seed="3"/><feColorMatrix values="1 0 0 0 0 1 0 0 0 0 1 0 0 0 0 0 0 0 0 1" result="q"/><feFlood x="1501" y="301" width="1" height="1" flood-color="#000"/><feOffset x="1500" y="300" width="3" height="3" dx="0" dy="0"/><feTile result="t"/><feComposite in="q" in2="t" operator="in"/><feMorphology operator="dilate" radius="1" result="n"/><feComposite in="g" in2="n" operator="arithmetic" k1="0" k2="1" k3="0.3" k4="-0.15"/><feComponentTransfer><feFuncR type="table" tableValues="0 0 0 0 0 0 0 0 0 0 0 0 0 0 0 0 0 0 0 0 0 0 0 0 0 0 0 0 0 0 0 0 0 0 0 0 .032 .065 .097 .129 .161 .194 .226 .258 .29 .323 .355 .387 .419 .452 .484 .516 .548 .581 .613 .645 .677 .71 .742 .774 .806 .839 .871 .903 .935 .968 1 1 1 1 1 1 1 1 1 1 1 1 1 1 1 1 1 1 1 1 1 1 1 1 .955 .909 .864 .818 .773 .727 .682 .636 .591 .545 .5"/><feFuncG type="table" tableValues="0 0 0 0 0 0 0 0 0 0 0 0 0 .02 .06 .1 .14 .18 .22 .26 .3 .34 .38 .42 .46 .5 .54 .58 .62 .66 .7 .74 .78 .82 .86 .9 .94 .98 1 1 1 1 1 1 1 1 1 1 1 1 1 1 1 1 1 1 1 1 1 1 1 1 1 1 1 .963 .926 .889 .852 .815 .778 .741 .704 .667 .63 .593 .556 .519 .481 .444 .407 .37 .333 .296 .259 .222 .185 .148 .111 .074 .037 0 0 0 0 0 0 0 0 0 0"/><feFuncB type="table" tableValues=".5 .545 .591 .636 .682 .727 .773 .818 .864 .909 .955 1 1 1 1 1 1 1 1 1 1 1 1 1 1 1 1 1 1 1 1 1 1 1 1 .968 .935 .903 .871 .839 .806 .774 .742 .71 .677 .645 .613 .581 .548 .516 .484 .452 .419 .387 .355 .323 .29 .258 .226 .194 .161 .129 .097 .065 .032 0 0 0 0 0 0 0 0 0 0 0 0 0 0 0 0 0 0 0 0 0 0 0 0 0 0 0 0 0 0 0 0 0 0 0 0"/></feComponentTransfer><feGaussianBlur stdDeviation="1.1"/></filter><filter id="fc" color-interpolation-filters="sRGB"><feGaussianBlur in="SourceGraphic" stdDeviation="2 7.9" result="g"/><feComponentTransfer result="g"><feFuncR type="linear" slope="0.83" intercept="0.08"/><feFuncG type="linear" slope="0.83" intercept="0.08"/><feFuncB type="linear" slope="0.83" intercept="0.08"/></feComponentTransfer><feTurbulence type="fractalNoise" baseFrequency=".01 .07" numOctaves="3" seed="5"/><feColorMatrix values="1 0 0 0 0 1 0 0 0 0 1 0 0 0 0 0 0 0 0 1" result="h1"/><feTurbulence type="fractalNoise" baseFrequency=".07 .01" numOctaves="3" seed="12"/><feColorMatrix values="1 0 0 0 0 1 0 0 0 0 1 0 0 0 0 0 0 0 0 1" result="h2"/><feComposite in="h1" in2="h2" operator="arithmetic" k1="0" k2=".5" k3=".5" k4="0" result="n"/><feComposite in="g" in2="n" operator="arithmetic" k1="0" k2="1" k3="0.16" k4="-0.08"/><feComponentTransfer><feFuncR type="table" tableValues="0 0 0 0 0 0 0 0 0 0 0 0 0 0 0 0 0 0 0 0 0 0 0 0 0 0 0 0 0 0 0 0 0 0 0 0 .032 .065 .097 .129 .161 .194 .226 .258 .29 .323 .355 .387 .419 .452 .484 .516 .548 .581 .613 .645 .677 .71 .742 .774 .806 .839 .871 .903 .935 .968 1 1 1 1 1 1 1 1 1 1 1 1 1 1 1 1 1 1 1 1 1 1 1 1 .955 .909 .864 .818 .773 .727 .682 .636 .591 .545 .5"/><feFuncG type="table" tableValues="0 0 0 0 0 0 0 0 0 0 0 0 0 .02 .06 .1 .14 .18 .22 .26 .3 .34 .38 .42 .46 .5 .54 .58 .62 .66 .7 .74 .78 .82 .86 .9 .94 .98 1 1 1 1 1 1 1 1 1 1 1 1 1 1 1 1 1 1 1 1 1 1 1 1 1 1 1 .963 .926 .889 .852 .815 .778 .741 .704 .667 .63 .593 .556 .519 .481 .444 .407 .37 .333 .296 .259 .222 .185 .148 .111 .074 .037 0 0 0 0 0 0 0 0 0 0"/><feFuncB type="table" tableValues=".5 .545 .591 .636 .682 .727 .773 .818 .864 .909 .955 1 1 1 1 1 1 1 1 1 1 1 1 1 1 1 1 1 1 1 1 1 1 1 1 .968 .935 .903 .871 .839 .806 .774 .742 .71 .677 .645 .613 .581 .548 .516 .484 .452 .419 .387 .355 .323 .29 .258 .226 .194 .161 .129 .097 .065 .032 0 0 0 0 0 0 0 0 0 0 0 0 0 0 0 0 0 0 0 0 0 0 0 0 0 0 0 0 0 0 0 0 0 0 0 0"/></feComponentTransfer><feGaussianBlur stdDeviation=".9"/></filter><filter id="fd" color-interpolation-filters="sRGB"><feFlood flood-color="#818181" result="g"/><feTurbulence type="fractalNoise" baseFrequency=".01 .07" numOctaves="3" seed="11"/><feColorMatrix values="1 0 0 0 0 1 0 0 0 0 1 0 0 0 0 0 0 0 0 1" result="h1"/><feTurbulence type="fractalNoise" baseFrequency=".07 .01" numOctaves="3" seed="18"/><feColorMatrix values="1 0 0 0 0 1 0 0 0 0 1 0 0 0 0 0 0 0 0 1" result="h2"/><feComposite in="h1" in2="h2" operator="arithmetic" k1="0" k2=".5" k3=".5" k4="0" result="n"/><feComposite in="g" in2="n" operator="arithmetic" k1="0" k2="1" k3="0.36" k4="-0.18"/><feComponentTransfer><feFuncR type="table" tableValues="0 0 0 0 0 0 0 0 0 0 0 0 0 0 0 0 0 0 0 0 0 0 0 0 0 0 0 0 0 0 0 0 0 0 0 0 .032 .065 .097 .129 .161 .194 .226 .258 .29 .323 .355 .387 .419 .452 .484 .516 .548 .581 .613 .645 .677 .71 .742 .774 .806 .839 .871 .903 .935 .968 1 1 1 1 1 1 1 1 1 1 1 1 1 1 1 1 1 1 1 1 1 1 1 1 .955 .909 .864 .818 .773 .727 .682 .636 .591 .545 .5"/><feFuncG type="table" tableValues="0 0 0 0 0 0 0 0 0 0 0 0 0 .02 .06 .1 .14 .18 .22 .26 .3 .34 .38 .42 .46 .5 .54 .58 .62 .66 .7 .74 .78 .82 .86 .9 .94 .98 1 1 1 1 1 1 1 1 1 1 1 1 1 1 1 1 1 1 1 1 1 1 1 1 1 1 1 .963 .926 .889 .852 .815 .778 .741 .704 .667 .63 .593 .556 .519 .481 .444 .407 .37 .333 .296 .259 .222 .185 .148 .111 .074 .037 0 0 0 0 0 0 0 0 0 0"/><feFuncB type="table" tableValues=".5 .545 .591 .636 .682 .727 .773 .818 .864 .909 .955 1 1 1 1 1 1 1 1 1 1 1 1 1 1 1 1 1 1 1 1 1 1 1 1 .968 .935 .903 .871 .839 .806 .774 .742 .71 .677 .645 .613 .581 .548 .516 .484 .452 .419 .387 .355 .323 .29 .258 .226 .194 .161 .129 .097 .065 .032 0 0 0 0 0 0 0 0 0 0 0 0 0 0 0 0 0 0 0 0 0 0 0 0 0 0 0 0 0 0 0 0 0 0 0 0"/></feComponentTransfer><feGaussianBlur stdDeviation=".9"/></filter><clipPath id="ca"><rect x="230" y="44" width="632" height="631.7"/></clipPath><clipPath id="cb"><rect x="1410" y="43.8" width="632" height="631.7"/></clipPath><clipPath id="cc"><rect x="230.3" y="974.5" width="631.7" height="632.5"/></clipPath><clipPath id="cd"><rect x="1410" y="974.5" width="632" height="632.5"/></clipPath>
</defs>
<g id="panel-a">
<g clip-path="url(#ca)"><g filter="url(#fa)"><use href="#rF" transform="translate(230 44) scale(632 631.7)"/></g></g>
<g filter="url(#soft)">
<path class="tk" d="M231.23 675.7v21.1M230 45.23h-21.1M478.11 675.7v21.1M230 291.99h-21.1M724.98 675.7v21.1M230 538.75h-21.1M935 71.8h21.1M935 219.3h21.1M935 366.8h21.1M935 514.3h21.1M935 661.8h21.1"/>
<rect class="sp" x="230" y="44" width="632" height="631.7"/>
<rect x="901" y="30.8" width="34" height="658.2" fill="url(#jetg)" stroke="#000" stroke-width="4.2"/>
<text transform="translate(231.23 758.6) scale(1.025 1.035)" text-anchor="middle">0</text>
<text transform="translate(190 66.23) scale(1.025 1.035)" text-anchor="end">0</text>
<text transform="translate(478.11 758.6) scale(1.025 1.035)" text-anchor="middle">100</text>
<text transform="translate(190 312.99) scale(1.025 1.035)" text-anchor="end">100</text>
<text transform="translate(724.98 758.6) scale(1.025 1.035)" text-anchor="middle">200</text>
<text transform="translate(190 559.75) scale(1.025 1.035)" text-anchor="end">200</text>
<text transform="translate(974.5 92.8) scale(1.025 1.035)">200</text>
<text transform="translate(974.5 240.3) scale(1.025 1.035)">180</text>
<text transform="translate(974.5 387.8) scale(1.025 1.035)">160</text>
<text transform="translate(974.5 535.3) scale(1.025 1.035)">140</text>
<text transform="translate(974.5 682.8) scale(1.025 1.035)">120</text>
<text transform="translate(546.6 836.7) scale(1 1.035)" text-anchor="middle">Longitude(a.u.)</text>
<text transform="translate(64 360.85) rotate(-90) scale(1 1.035)" text-anchor="middle">Latitude(a.u.)</text>
<text transform="translate(1131 359.85) rotate(-90) scale(1 1.035)" text-anchor="middle">k</text>
<text class="cap" transform="translate(582 914.5) scale(1.01 .97)" text-anchor="middle">(a)</text>
</g></g>
<g id="panel-b">
<g clip-path="url(#cb)"><g filter="url(#fb)"><use href="#rF" transform="translate(1410 43.8) scale(632 631.7)"/></g></g>
<g filter="url(#soft)">
<path class="tk" d="M1411.23 675.5v21.1M1410 45.03h-21.1M1658.11 675.5v21.1M1410 291.79h-21.1M1904.98 675.5v21.1M1410 538.55h-21.1M2114.4 204.7h21.1M2114.4 432.1h21.1M2114.4 659.5h21.1"/>
<rect class="sp" x="1410" y="43.8" width="632" height="631.7"/>
<rect x="2081" y="30.8" width="33.4" height="658" fill="url(#jetg)" stroke="#000" stroke-width="4.2"/>
<text transform="translate(1411.23 758.4) scale(1.025 1.035)" text-anchor="middle">0</text>
<text transform="translate(1370 66.03) scale(1.025 1.035)" text-anchor="end">0</text>
<text transform="translate(1658.11 758.4) scale(1.025 1.035)" text-anchor="middle">100</text>
<text transform="translate(1370 312.79) scale(1.025 1.035)" text-anchor="end">100</text>
<text transform="translate(1904.98 758.4) scale(1.025 1.035)" text-anchor="middle">200</text>
<text transform="translate(1370 559.55) scale(1.025 1.035)" text-anchor="end">200</text>
<text transform="translate(2153.9 225.7) scale(1.025 1.035)">200</text>
<text transform="translate(2153.9 453.1) scale(1.025 1.035)">150</text>
<text transform="translate(2153.9 680.5) scale(1.025 1.035)">100</text>
<text transform="translate(1726.6 836.5) scale(1 1.035)" text-anchor="middle">Longitude(a.u.)</text>
<text transform="translate(1244 360.65) rotate(-90) scale(1 1.035)" text-anchor="middle">Latitude(a.u.)</text>
<text transform="translate(2310.4 359.65) rotate(-90) scale(1 1.035)" text-anchor="middle">k</text>
<text class="cap" transform="translate(1771.3 914.5) scale(1.01 .97)" text-anchor="middle">(b)</text>
</g></g>
<g id="panel-c">
<g clip-path="url(#cc)"><g filter="url(#fc)"><use href="#rF" transform="translate(230.3 974.5) scale(631.7 632.5)"/></g></g>
<g filter="url(#soft)">
<path class="tk" d="M231.53 1607v21.1M230.3 975.74h-21.1M478.29 1607v21.1M230.3 1222.81h-21.1M725.05 1607v21.1M230.3 1469.88h-21.1M935 1057.8h21.1M935 1210.5h21.1M935 1363.2h21.1M935 1515.9h21.1"/>
<rect class="sp" x="230.3" y="974.5" width="631.7" height="632.5"/>
<rect x="901" y="962.6" width="34" height="657" fill="url(#jetg)" stroke="#000" stroke-width="4.2"/>
<text transform="translate(231.53 1689.9) scale(1.025 1.035)" text-anchor="middle">0</text>
<text transform="translate(190.3 996.74) scale(1.025 1.035)" text-anchor="end">0</text>
<text transform="translate(478.29 1689.9) scale(1.025 1.035)" text-anchor="middle">100</text>
<text transform="translate(190.3 1243.81) scale(1.025 1.035)" text-anchor="end">100</text>
<text transform="translate(725.05 1689.9) scale(1.025 1.035)" text-anchor="middle">200</text>
<text transform="translate(190.3 1490.88) scale(1.025 1.035)" text-anchor="end">200</text>
<text transform="translate(974.5 1078.8) scale(1.025 1.035)">200</text>
<text transform="translate(974.5 1231.5) scale(1.025 1.035)">175</text>
<text transform="translate(974.5 1384.2) scale(1.025 1.035)">150</text>
<text transform="translate(974.5 1536.9) scale(1.025 1.035)">125</text>
<text transform="translate(546.75 1768) scale(1 1.035)" text-anchor="middle">Longitude(a.u.)</text>
<text transform="translate(64.3 1291.75) rotate(-90) scale(1 1.035)" text-anchor="middle">Latitude(a.u.)</text>
<text transform="translate(1131 1290.75) rotate(-90) scale(1 1.035)" text-anchor="middle">k</text>
<text class="cap" transform="translate(582 1874.5) scale(1.01 .97)" text-anchor="middle">(c)</text>
</g></g>
<g id="panel-d">
<g clip-path="url(#cd)"><g filter="url(#fd)"><use href="#rF" transform="translate(1410 974.5) scale(632 632.5)"/></g></g>
<g filter="url(#soft)">
<path class="tk" d="M1411.23 1607v21.1M1410 975.74h-21.1M1658.11 1607v21.1M1410 1222.81h-21.1M1904.98 1607v21.1M1410 1469.88h-21.1M2114.4 1019.9h21.1M2114.4 1154.8h21.1M2114.4 1289.7h21.1M2114.4 1424.6h21.1M2114.4 1559.5h21.1"/>
<rect class="sp" x="1410" y="974.5" width="632" height="632.5"/>
<rect x="2081" y="962.6" width="33.4" height="657" fill="url(#jetg)" stroke="#000" stroke-width="4.2"/>
<text transform="translate(1411.23 1689.9) scale(1.025 1.035)" text-anchor="middle">0</text>
<text transform="translate(1370 996.74) scale(1.025 1.035)" text-anchor="end">0</text>
<text transform="translate(1658.11 1689.9) scale(1.025 1.035)" text-anchor="middle">100</text>
<text transform="translate(1370 1243.81) scale(1.025 1.035)" text-anchor="end">100</text>
<text transform="translate(1904.98 1689.9) scale(1.025 1.035)" text-anchor="middle">200</text>
<text transform="translate(1370 1490.88) scale(1.025 1.035)" text-anchor="end">200</text>
<text transform="translate(2153.9 1040.9) scale(1.025 1.035)">20</text>
<text transform="translate(2153.9 1175.8) scale(1.025 1.035)">10</text>
<text transform="translate(2153.9 1310.7) scale(1.025 1.035)">0</text>
<text transform="translate(2153.9 1445.6) scale(1.025 1.035)">−10</text>
<text transform="translate(2153.9 1580.5) scale(1.025 1.035)">−20</text>
<text transform="translate(1726.6 1768) scale(1 1.035)" text-anchor="middle">Longitude(a.u.)</text>
<text transform="translate(1244 1291.75) rotate(-90) scale(1 1.035)" text-anchor="middle">Latitude(a.u.)</text>
<text transform="translate(2314.9 1290.75) rotate(-90) scale(1 1.035)" text-anchor="middle">k</text>
<text class="cap" transform="translate(1771.1 1876) scale(1.01 .97)" text-anchor="middle">(d)</text>
</g></g>
</svg></body></html>
